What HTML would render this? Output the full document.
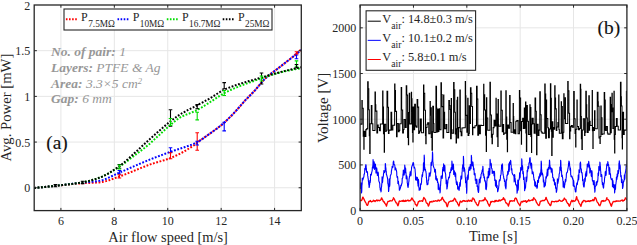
<!DOCTYPE html>
<html><head><meta charset="utf-8"><style>
html,body{margin:0;padding:0;background:#fff;width:637px;height:245px;overflow:hidden;font-family:"Liberation Serif",serif;}
svg{display:block}
</style></head><body>
<svg width="637" height="245" viewBox="0 0 637 245">
<rect width="637" height="245" fill="#fff"/>
<path d="M60.91 5.0V210.6M114.33 5.0V210.6M167.75 5.0V210.6M221.17 5.0V210.6M274.59 5.0V210.6M34.2 187.76H301.3M34.2 142.07H301.3M34.2 96.38H301.3M34.2 50.69H301.3" stroke="#e6e6e6" stroke-width="1" fill="none"/>
<defs><clipPath id="clipL"><rect x="34.2" y="5.0" width="267.10" height="205.60"/></clipPath></defs>
<g clip-path="url(#clipL)">
<path d="M34.20 188.00L35.20 187.90L36.20 187.80L37.20 187.70L38.20 187.60L39.20 187.51L40.20 187.41L41.20 187.31L42.20 187.21L43.20 187.11L44.20 187.01L45.20 186.91L46.20 186.81L47.20 186.71L48.20 186.61L49.20 186.51L50.20 186.42L51.20 186.32L52.20 186.22L53.20 186.12L54.20 186.02L55.20 185.92L56.20 185.82L57.20 185.72L58.20 185.61L59.20 185.51L60.20 185.40L61.20 185.29L62.20 185.18L63.20 185.07L64.20 184.96L65.20 184.84L66.20 184.73L67.20 184.62L68.20 184.51L69.20 184.40L70.20 184.30L71.20 184.19L72.20 184.09L73.20 183.98L74.20 183.89L75.20 183.79L76.20 183.70L77.20 183.61L78.20 183.52L79.20 183.44L80.20 183.36L81.20 183.29L82.20 183.23L83.20 183.16L84.20 183.11L85.20 183.06L86.20 183.02L87.20 182.98L88.20 182.94L89.20 182.90L90.20 182.87L91.20 182.83L92.20 182.80L93.20 182.76L94.20 182.72L95.20 182.67L96.20 182.62L97.20 182.56L98.20 182.50L99.20 182.42L100.20 182.33L101.20 182.21L102.20 182.05L103.20 181.86L104.20 181.63L105.20 181.39L106.20 181.11L107.20 180.82L108.20 180.51L109.20 180.18L110.20 179.83L111.20 179.48L112.20 179.12L113.20 178.75L114.20 178.38L115.20 178.00L116.20 177.64L117.20 177.27L118.20 176.91L119.20 176.57L120.20 176.23L121.20 175.88L122.20 175.51L123.20 175.15L124.20 174.77L125.20 174.38L126.20 173.99L127.20 173.60L128.20 173.19L129.20 172.79L130.20 172.38L131.20 171.97L132.20 171.55L133.20 171.14L134.20 170.72L135.20 170.31L136.20 169.90L137.20 169.48L138.20 169.07L139.20 168.67L140.20 168.27L141.20 167.87L142.20 167.48L143.20 167.09L144.20 166.70L145.20 166.31L146.20 165.92L147.20 165.53L148.20 165.15L149.20 164.79L150.20 164.43L151.20 164.09L152.20 163.76L153.20 163.44L154.20 163.13L155.20 162.83L156.20 162.54L157.20 162.25L158.20 161.96L159.20 161.67L160.20 161.38L161.20 161.09L162.20 160.80L163.20 160.50L164.20 160.20L165.20 159.88L166.20 159.56L167.20 159.22L168.20 158.87L169.20 158.50L170.20 158.12L171.20 157.72L172.20 157.31L173.20 156.88L174.20 156.44L175.20 155.99L176.20 155.53L177.20 155.06L178.20 154.57L179.20 154.07L180.20 153.56L181.20 153.03L182.20 152.50L183.20 151.95L184.20 151.39L185.20 150.81L186.20 150.23L187.20 149.63L188.20 149.02L189.20 148.39L190.20 147.76L191.20 147.11L192.20 146.45L193.20 145.78L194.20 145.09L195.20 144.28L196.20 143.42L197.20 142.60L198.20 141.84L199.20 141.10L200.20 140.37L201.20 139.66L202.20 138.95L203.20 138.26L204.20 137.56L205.20 136.87L206.20 136.18L207.20 135.49L208.20 134.79L209.20 134.08L210.20 133.35L211.20 132.63L212.20 131.92L213.20 131.21L214.20 130.49L215.20 129.77L216.20 129.05L217.20 128.32L218.20 127.57L219.20 126.80L220.20 126.02L221.20 125.21L222.20 124.38L223.20 123.52L224.20 122.64L225.20 121.73L226.20 120.80L227.20 119.85L228.20 118.89L229.20 117.91L230.20 116.91L231.20 115.91L232.20 114.90L233.20 113.86L234.20 112.80L235.20 111.71L236.20 110.60L237.20 109.48L238.20 108.35L239.20 107.20L240.20 106.06L241.20 104.91L242.20 103.78L243.20 102.65L244.20 101.54L245.20 100.44L246.20 99.38L247.20 98.33L248.20 97.30L249.20 96.29L250.20 95.28L251.20 94.27L252.20 93.25L253.20 92.21L254.20 91.16L255.20 90.08L256.20 88.95L257.20 87.77L258.20 86.56L259.20 85.34L260.20 84.12L261.20 82.92L262.20 81.75L263.20 80.64L264.20 79.59L265.20 78.62L266.20 77.70L267.20 76.81L268.20 75.96L269.20 75.13L270.20 74.33L271.20 73.55L272.20 72.78L273.20 72.02L274.20 71.27L275.20 70.53L276.20 69.79L277.20 69.04L278.20 68.29L279.20 67.52L280.20 66.74L281.20 65.94L282.20 65.16L283.20 64.38L284.20 63.60L285.20 62.83L286.20 62.05L287.20 61.28L288.20 60.50L289.20 59.72L290.20 58.93L291.20 58.14L292.20 57.34L293.20 56.52L294.20 55.70L295.20 54.86L296.20 54.00L297.20 53.12L298.20 52.21L299.20 51.29L300.20 50.35L301.30 49.30" stroke="#ff0000" stroke-width="2" stroke-dasharray="1.8 1.6" stroke-dashoffset="0" fill="none"/>
<path d="M34.20 188.00L35.20 187.90L36.20 187.80L37.20 187.70L38.20 187.60L39.20 187.50L40.20 187.40L41.20 187.30L42.20 187.20L43.20 187.10L44.20 186.99L45.20 186.89L46.20 186.79L47.20 186.68L48.20 186.58L49.20 186.47L50.20 186.36L51.20 186.26L52.20 186.15L53.20 186.04L54.20 185.93L55.20 185.82L56.20 185.71L57.20 185.60L58.20 185.49L59.20 185.37L60.20 185.26L61.20 185.14L62.20 185.02L63.20 184.90L64.20 184.78L65.20 184.66L66.20 184.54L67.20 184.42L68.20 184.30L69.20 184.18L70.20 184.06L71.20 183.94L72.20 183.82L73.20 183.70L74.20 183.58L75.20 183.46L76.20 183.34L77.20 183.22L78.20 183.10L79.20 182.99L80.20 182.87L81.20 182.76L82.20 182.64L83.20 182.53L84.20 182.43L85.20 182.33L86.20 182.24L87.20 182.15L88.20 182.07L89.20 181.98L90.20 181.89L91.20 181.80L92.20 181.71L93.20 181.61L94.20 181.51L95.20 181.40L96.20 181.28L97.20 181.15L98.20 181.00L99.20 180.85L100.20 180.67L101.20 180.45L102.20 180.19L103.20 179.88L104.20 179.54L105.20 179.17L106.20 178.78L107.20 178.36L108.20 177.91L109.20 177.45L110.20 176.98L111.20 176.49L112.20 176.00L113.20 175.51L114.20 175.02L115.20 174.53L116.20 174.05L117.20 173.58L118.20 173.12L119.20 172.68L120.20 172.26L121.20 171.84L122.20 171.41L123.20 170.98L124.20 170.55L125.20 170.12L126.20 169.68L127.20 169.25L128.20 168.81L129.20 168.38L130.20 167.94L131.20 167.50L132.20 167.07L133.20 166.63L134.20 166.20L135.20 165.76L136.20 165.33L137.20 164.90L138.20 164.47L139.20 164.04L140.20 163.61L141.20 163.19L142.20 162.76L143.20 162.33L144.20 161.91L145.20 161.48L146.20 161.06L147.20 160.64L148.20 160.23L149.20 159.82L150.20 159.42L151.20 159.02L152.20 158.63L153.20 158.24L154.20 157.85L155.20 157.47L156.20 157.09L157.20 156.71L158.20 156.33L159.20 155.96L160.20 155.58L161.20 155.21L162.20 154.84L163.20 154.47L164.20 154.11L165.20 153.74L166.20 153.37L167.20 153.01L168.20 152.64L169.20 152.28L170.20 151.91L171.20 151.55L172.20 151.19L173.20 150.85L174.20 150.51L175.20 150.18L176.20 149.85L177.20 149.53L178.20 149.21L179.20 148.90L180.20 148.58L181.20 148.27L182.20 147.95L183.20 147.63L184.20 147.30L185.20 146.97L186.20 146.64L187.20 146.29L188.20 145.94L189.20 145.57L190.20 145.20L191.20 144.81L192.20 144.41L193.20 144.00L194.20 143.56L195.20 143.12L196.20 142.65L197.20 142.15L198.20 141.61L199.20 141.03L200.20 140.41L201.20 139.76L202.20 139.09L203.20 138.40L204.20 137.69L205.20 136.97L206.20 136.24L207.20 135.51L208.20 134.79L209.20 134.07L210.20 133.36L211.20 132.66L212.20 131.95L213.20 131.25L214.20 130.53L215.20 129.81L216.20 129.08L217.20 128.34L218.20 127.59L219.20 126.81L220.20 126.02L221.20 125.21L222.20 124.38L223.20 123.52L224.20 122.64L225.20 121.73L226.20 120.80L227.20 119.85L228.20 118.89L229.20 117.91L230.20 116.91L231.20 115.91L232.20 114.90L233.20 113.86L234.20 112.80L235.20 111.71L236.20 110.60L237.20 109.48L238.20 108.35L239.20 107.20L240.20 106.06L241.20 104.91L242.20 103.78L243.20 102.65L244.20 101.54L245.20 100.44L246.20 99.38L247.20 98.33L248.20 97.30L249.20 96.29L250.20 95.28L251.20 94.27L252.20 93.25L253.20 92.21L254.20 91.16L255.20 90.08L256.20 88.95L257.20 87.77L258.20 86.56L259.20 85.34L260.20 84.12L261.20 82.92L262.20 81.75L263.20 80.64L264.20 79.59L265.20 78.62L266.20 77.70L267.20 76.81L268.20 75.96L269.20 75.13L270.20 74.32L271.20 73.54L272.20 72.77L273.20 72.01L274.20 71.26L275.20 70.52L276.20 69.77L277.20 69.03L278.20 68.27L279.20 67.51L280.20 66.74L281.20 65.95L282.20 65.16L283.20 64.38L284.20 63.60L285.20 62.83L286.20 62.05L287.20 61.27L288.20 60.50L289.20 59.72L290.20 58.94L291.20 58.16L292.20 57.38L293.20 56.59L294.20 55.80L295.20 55.00L296.20 54.20L297.20 53.39L298.20 52.57L299.20 51.75L300.20 50.92L301.30 50.00" stroke="#0000ff" stroke-width="2" stroke-dasharray="1.8 1.6" stroke-dashoffset="0" fill="none"/>
<path d="M34.20 188.00L35.20 187.91L36.20 187.81L37.20 187.72L38.20 187.62L39.20 187.52L40.20 187.42L41.20 187.32L42.20 187.22L43.20 187.12L44.20 187.02L45.20 186.92L46.20 186.81L47.20 186.70L48.20 186.60L49.20 186.49L50.20 186.38L51.20 186.27L52.20 186.16L53.20 186.05L54.20 185.94L55.20 185.82L56.20 185.71L57.20 185.60L58.20 185.49L59.20 185.37L60.20 185.26L61.20 185.15L62.20 185.04L63.20 184.93L64.20 184.82L65.20 184.71L66.20 184.60L67.20 184.48L68.20 184.37L69.20 184.25L70.20 184.13L71.20 184.00L72.20 183.88L73.20 183.75L74.20 183.61L75.20 183.47L76.20 183.33L77.20 183.18L78.20 183.03L79.20 182.88L80.20 182.71L81.20 182.55L82.20 182.37L83.20 182.19L84.20 182.00L85.20 181.79L86.20 181.58L87.20 181.36L88.20 181.12L89.20 180.87L90.20 180.61L91.20 180.34L92.20 180.07L93.20 179.77L94.20 179.47L95.20 179.16L96.20 178.84L97.20 178.51L98.20 178.16L99.20 177.81L100.20 177.44L101.20 177.04L102.20 176.61L103.20 176.16L104.20 175.68L105.20 175.18L106.20 174.66L107.20 174.12L108.20 173.56L109.20 172.98L110.20 172.39L111.20 171.79L112.20 171.18L113.20 170.55L114.20 169.92L115.20 169.29L116.20 168.65L117.20 168.01L118.20 167.37L119.20 166.73L120.20 166.08L121.20 165.42L122.20 164.73L123.20 164.03L124.20 163.31L125.20 162.58L126.20 161.84L127.20 161.09L128.20 160.33L129.20 159.56L130.20 158.79L131.20 158.01L132.20 157.24L133.20 156.47L134.20 155.70L135.20 154.93L136.20 154.18L137.20 153.43L138.20 152.68L139.20 151.95L140.20 151.21L141.20 150.47L142.20 149.73L143.20 148.98L144.20 148.22L145.20 147.44L146.20 146.65L147.20 145.84L148.20 145.00L149.20 144.14L150.20 143.26L151.20 142.37L152.20 141.46L153.20 140.55L154.20 139.62L155.20 138.70L156.20 137.78L157.20 136.86L158.20 135.94L159.20 135.04L160.20 134.12L161.20 133.20L162.20 132.27L163.20 131.33L164.20 130.40L165.20 129.47L166.20 128.56L167.20 127.65L168.20 126.76L169.20 125.89L170.20 125.05L171.20 124.22L172.20 123.39L173.20 122.56L174.20 121.74L175.20 120.94L176.20 120.17L177.20 119.43L178.20 118.73L179.20 118.08L180.20 117.49L181.20 116.94L182.20 116.43L183.20 115.95L184.20 115.49L185.20 115.05L186.20 114.64L187.20 114.23L188.20 113.84L189.20 113.45L190.20 113.06L191.20 112.66L192.20 112.26L193.20 111.85L194.20 111.42L195.20 110.97L196.20 110.50L197.20 110.00L198.20 109.47L199.20 108.92L200.20 108.34L201.20 107.75L202.20 107.14L203.20 106.52L204.20 105.88L205.20 105.24L206.20 104.60L207.20 103.95L208.20 103.30L209.20 102.65L210.20 102.00L211.20 101.37L212.20 100.74L213.20 100.11L214.20 99.46L215.20 98.80L216.20 98.15L217.20 97.49L218.20 96.83L219.20 96.18L220.20 95.54L221.20 94.92L222.20 94.32L223.20 93.75L224.20 93.20L225.20 92.67L226.20 92.16L227.20 91.66L228.20 91.17L229.20 90.69L230.20 90.21L231.20 89.75L232.20 89.30L233.20 88.85L234.20 88.42L235.20 87.98L236.20 87.56L237.20 87.14L238.20 86.73L239.20 86.32L240.20 85.92L241.20 85.53L242.20 85.14L243.20 84.76L244.20 84.39L245.20 84.03L246.20 83.67L247.20 83.32L248.20 82.97L249.20 82.62L250.20 82.28L251.20 81.93L252.20 81.58L253.20 81.24L254.20 80.88L255.20 80.53L256.20 80.17L257.20 79.81L258.20 79.45L259.20 79.10L260.20 78.74L261.20 78.40L262.20 78.06L263.20 77.73L264.20 77.39L265.20 77.05L266.20 76.71L267.20 76.37L268.20 76.03L269.20 75.70L270.20 75.37L271.20 75.04L272.20 74.72L273.20 74.41L274.20 74.10L275.20 73.80L276.20 73.51L277.20 73.23L278.20 72.96L279.20 72.70L280.20 72.45L281.20 72.21L282.20 71.97L283.20 71.74L284.20 71.51L285.20 71.28L286.20 71.05L287.20 70.83L288.20 70.62L289.20 70.41L290.20 70.20L291.20 70.00L292.20 69.81L293.20 69.62L294.20 69.43L295.20 69.25L296.20 69.08L297.20 68.91L298.20 68.75L299.20 68.60L300.20 68.45L301.30 68.30" stroke="#00dd00" stroke-width="2" stroke-dasharray="1.8 1.6" stroke-dashoffset="0" fill="none"/>
<path d="M34.20 188.00L35.20 187.91L36.20 187.81L37.20 187.72L38.20 187.62L39.20 187.52L40.20 187.42L41.20 187.32L42.20 187.22L43.20 187.12L44.20 187.02L45.20 186.92L46.20 186.81L47.20 186.70L48.20 186.60L49.20 186.49L50.20 186.38L51.20 186.27L52.20 186.16L53.20 186.05L54.20 185.94L55.20 185.82L56.20 185.71L57.20 185.60L58.20 185.49L59.20 185.37L60.20 185.26L61.20 185.15L62.20 185.04L63.20 184.93L64.20 184.82L65.20 184.71L66.20 184.60L67.20 184.48L68.20 184.37L69.20 184.25L70.20 184.13L71.20 184.00L72.20 183.88L73.20 183.75L74.20 183.61L75.20 183.47L76.20 183.33L77.20 183.18L78.20 183.03L79.20 182.88L80.20 182.71L81.20 182.55L82.20 182.37L83.20 182.19L84.20 182.00L85.20 181.80L86.20 181.58L87.20 181.36L88.20 181.12L89.20 180.88L90.20 180.62L91.20 180.35L92.20 180.07L93.20 179.78L94.20 179.48L95.20 179.17L96.20 178.85L97.20 178.51L98.20 178.17L99.20 177.81L100.20 177.44L101.20 177.03L102.20 176.61L103.20 176.15L104.20 175.67L105.20 175.16L106.20 174.64L107.20 174.09L108.20 173.52L109.20 172.93L110.20 172.33L111.20 171.71L112.20 171.07L113.20 170.43L114.20 169.77L115.20 169.10L116.20 168.42L117.20 167.73L118.20 167.04L119.20 166.34L120.20 165.63L121.20 164.87L122.20 164.08L123.20 163.26L124.20 162.41L125.20 161.54L126.20 160.65L127.20 159.75L128.20 158.83L129.20 157.91L130.20 156.99L131.20 156.07L132.20 155.15L133.20 154.25L134.20 153.35L135.20 152.46L136.20 151.55L137.20 150.64L138.20 149.72L139.20 148.81L140.20 147.89L141.20 146.97L142.20 146.05L143.20 145.13L144.20 144.22L145.20 143.32L146.20 142.42L147.20 141.51L148.20 140.61L149.20 139.70L150.20 138.80L151.20 137.90L152.20 137.00L153.20 136.10L154.20 135.21L155.20 134.32L156.20 133.44L157.20 132.56L158.20 131.68L159.20 130.81L160.20 129.95L161.20 129.08L162.20 128.21L163.20 127.34L164.20 126.48L165.20 125.62L166.20 124.78L167.20 123.95L168.20 123.13L169.20 122.32L170.20 121.53L171.20 120.76L172.20 120.00L173.20 119.24L174.20 118.49L175.20 117.76L176.20 117.04L177.20 116.34L178.20 115.66L179.20 115.01L180.20 114.38L181.20 113.77L182.20 113.18L183.20 112.61L184.20 112.05L185.20 111.51L186.20 110.97L187.20 110.45L188.20 109.93L189.20 109.42L190.20 108.91L191.20 108.41L192.20 107.90L193.20 107.39L194.20 106.88L195.20 106.36L196.20 105.84L197.20 105.30L198.20 104.76L199.20 104.22L200.20 103.68L201.20 103.15L202.20 102.61L203.20 102.07L204.20 101.53L205.20 100.98L206.20 100.43L207.20 99.88L208.20 99.32L209.20 98.76L210.20 98.18L211.20 97.59L212.20 96.98L213.20 96.34L214.20 95.70L215.20 95.05L216.20 94.39L217.20 93.74L218.20 93.10L219.20 92.47L220.20 91.86L221.20 91.27L222.20 90.71L223.20 90.19L224.20 89.70L225.20 89.24L226.20 88.81L227.20 88.38L228.20 87.97L229.20 87.57L230.20 87.19L231.20 86.81L232.20 86.45L233.20 86.09L234.20 85.74L235.20 85.40L236.20 85.06L237.20 84.72L238.20 84.39L239.20 84.06L240.20 83.73L241.20 83.41L242.20 83.10L243.20 82.79L244.20 82.49L245.20 82.20L246.20 81.91L247.20 81.62L248.20 81.33L249.20 81.05L250.20 80.77L251.20 80.49L252.20 80.21L253.20 79.92L254.20 79.63L255.20 79.34L256.20 79.05L257.20 78.76L258.20 78.46L259.20 78.17L260.20 77.88L261.20 77.59L262.20 77.30L263.20 77.00L264.20 76.71L265.20 76.42L266.20 76.12L267.20 75.82L268.20 75.53L269.20 75.23L270.20 74.94L271.20 74.65L272.20 74.36L273.20 74.07L274.20 73.78L275.20 73.50L276.20 73.22L277.20 72.94L278.20 72.67L279.20 72.41L280.20 72.15L281.20 71.89L282.20 71.64L283.20 71.38L284.20 71.13L285.20 70.88L286.20 70.63L287.20 70.39L288.20 70.15L289.20 69.91L290.20 69.67L291.20 69.43L292.20 69.20L293.20 68.97L294.20 68.74L295.20 68.52L296.20 68.29L297.20 68.07L298.20 67.86L299.20 67.64L300.20 67.43L301.30 67.20" stroke="#000000" stroke-width="2" stroke-dasharray="1.8 1.6" stroke-dashoffset="0" fill="none"/>
<path d="M55.4 184.6V186.8M53.6 184.6h3.6M53.6 186.8h3.6" stroke="#000" stroke-width="1.1" fill="none"/>
<path d="M82.6 181.2V183.6M80.8 181.2h3.6M80.8 183.6h3.6" stroke="#000" stroke-width="1.1" fill="none"/>
<path d="M119.4 164.5V168.3M117.6 164.5h3.6M117.6 168.3h3.6" stroke="#000" stroke-width="1.1" fill="none"/>
<path d="M119.4 165.0V169.0M117.6 165.0h3.6M117.6 169.0h3.6" stroke="#00dd00" stroke-width="1.1" fill="none"/>
<path d="M119.4 170.5V174.0M117.6 170.5h3.6M117.6 174.0h3.6" stroke="#0000ff" stroke-width="1.1" fill="none"/>
<path d="M119.4 174.8V178.0M117.6 174.8h3.6M117.6 178.0h3.6" stroke="#ff0000" stroke-width="1.1" fill="none"/>
<path d="M170.5 109.7V126.2M168.7 109.7h3.6M168.7 126.2h3.6" stroke="#000" stroke-width="1.1" fill="none"/>
<path d="M170.5 118.5V125.5M168.7 118.5h3.6M168.7 125.5h3.6" stroke="#00dd00" stroke-width="1.1" fill="none"/>
<path d="M170.5 147.8V152.5M168.7 147.8h3.6M168.7 152.5h3.6" stroke="#0000ff" stroke-width="1.1" fill="none"/>
<path d="M170.5 152.7V158.8M168.7 152.7h3.6M168.7 158.8h3.6" stroke="#ff0000" stroke-width="1.1" fill="none"/>
<path d="M197.2 104.6V108.7M195.4 104.6h3.6M195.4 108.7h3.6" stroke="#000" stroke-width="1.1" fill="none"/>
<path d="M197.2 112.3V119.9M195.4 112.3h3.6M195.4 119.9h3.6" stroke="#00dd00" stroke-width="1.1" fill="none"/>
<path d="M197.2 132.8V150.2M195.4 132.8h3.6M195.4 150.2h3.6" stroke="#ff0000" stroke-width="1.1" fill="none"/>
<path d="M197.2 141.2V145.0M195.4 141.2h3.6M195.4 145.0h3.6" stroke="#0000ff" stroke-width="1.1" fill="none"/>
<path d="M224.2 82.6V88.8M222.4 82.6h3.6M222.4 88.8h3.6" stroke="#000" stroke-width="1.1" fill="none"/>
<path d="M224.2 90.5V95.5M222.4 90.5h3.6M222.4 95.5h3.6" stroke="#00dd00" stroke-width="1.1" fill="none"/>
<path d="M224.2 122.3V130.9M222.4 122.3h3.6M222.4 130.9h3.6" stroke="#0000ff" stroke-width="1.1" fill="none"/>
<path d="M261.5 73.0V84.0M259.7 73.0h3.6M259.7 84.0h3.6" stroke="#000" stroke-width="1.1" fill="none"/>
<path d="M261.5 76.0V81.0M259.7 76.0h3.6M259.7 81.0h3.6" stroke="#00dd00" stroke-width="1.1" fill="none"/>
<path d="M296.5 60.9V66.2M294.7 60.9h3.6M294.7 66.2h3.6" stroke="#00dd00" stroke-width="1.1" fill="none"/>
<path d="M296.5 64.5V67.8M294.7 64.5h3.6M294.7 67.8h3.6" stroke="#000" stroke-width="1.1" fill="none"/>
<path d="M296.5 55.0V58.7M294.7 55.0h3.6M294.7 58.7h3.6" stroke="#0000ff" stroke-width="1.1" fill="none"/>
<path d="M296.5 51.8V54.0M294.7 51.8h3.6M294.7 54.0h3.6" stroke="#ff0000" stroke-width="1.1" fill="none"/>
</g>
<path d="M60.91 210.6v-2.7M60.91 5.0v2.7M114.33 210.6v-2.7M114.33 5.0v2.7M167.75 210.6v-2.7M167.75 5.0v2.7M221.17 210.6v-2.7M221.17 5.0v2.7M274.59 210.6v-2.7M274.59 5.0v2.7M34.2 187.76h2.7M301.3 187.76h-2.7M34.2 142.07h2.7M301.3 142.07h-2.7M34.2 96.38h2.7M301.3 96.38h-2.7M34.2 50.69h2.7M301.3 50.69h-2.7" stroke="#262626" stroke-width="1" fill="none"/>
<rect x="34.2" y="5.0" width="267.10" height="205.60" stroke="#262626" stroke-width="1.3" fill="none"/>
<g font-family="Liberation Serif, serif" font-size="12" fill="#262626">
<text x="60.91" y="225.3" text-anchor="middle">6</text>
<text x="114.33" y="225.3" text-anchor="middle">8</text>
<text x="167.75" y="225.3" text-anchor="middle">10</text>
<text x="221.17" y="225.3" text-anchor="middle">12</text>
<text x="274.59" y="225.3" text-anchor="middle">14</text>
<text x="30.3" y="9.55" text-anchor="end">2</text>
<text x="30.3" y="55.24" text-anchor="end">1.5</text>
<text x="30.3" y="100.93" text-anchor="end">1</text>
<text x="30.3" y="146.62" text-anchor="end">0.5</text>
<text x="30.3" y="192.31" text-anchor="end">0</text>
</g>
<text font-family="Liberation Serif, serif" font-size="14.4" fill="#262626" x="168.10" y="241.5" text-anchor="middle">Air flow speed [m/s]</text>
<text font-family="Liberation Serif, serif" font-size="14.7" fill="#262626" transform="translate(10.8 107.6) rotate(-90)" text-anchor="middle">Avg. Power [mW]</text>
<text font-family="Liberation Serif, serif" font-size="19.4" fill="#111" stroke="#111" stroke-width="0.12" x="46.3" y="149.4">(a)</text>
<g font-family="Liberation Serif, serif" font-size="13.5" fill="#979797" font-style="italic">
<text x="51" y="55.9"><tspan font-weight="bold">No. of pair:</tspan> 1</text>
<text x="51" y="71.8"><tspan font-weight="bold">Layers:</tspan> PTFE &amp; Ag</text>
<text x="51" y="87.6"><tspan font-weight="bold">Area:</tspan> 3.3×5 cm<tspan font-size="8.5" dy="-3.9">2</tspan></text>
<text x="51" y="103.4"><tspan font-weight="bold">Gap:</tspan> 6 mm</text>
</g>
<rect x="64" y="9" width="208" height="21" fill="#fff" stroke="#262626" stroke-width="1.1"/>
<path d="M65.9 19.3h12.4" stroke="#ff0000" stroke-width="2" stroke-dasharray="1.6 1.5"/>
<text font-family="Liberation Serif, serif" fill="#262626" x="81.1" y="20.7" font-size="12">P<tspan font-size="9.3" dx="0.4" dy="6.2">7.5MΩ</tspan></text>
<path d="M117.5 19.3h12.4" stroke="#0000ff" stroke-width="2" stroke-dasharray="1.6 1.5"/>
<text font-family="Liberation Serif, serif" fill="#262626" x="132.7" y="20.7" font-size="12">P<tspan font-size="9.3" dx="0.4" dy="6.2">10MΩ</tspan></text>
<path d="M166.8 19.3h12.4" stroke="#00dd00" stroke-width="2" stroke-dasharray="1.6 1.5"/>
<text font-family="Liberation Serif, serif" fill="#262626" x="182.0" y="20.7" font-size="12">P<tspan font-size="9.3" dx="0.4" dy="6.2">16.7MΩ</tspan></text>
<path d="M222.7 19.3h12.4" stroke="#000000" stroke-width="2" stroke-dasharray="1.6 1.5"/>
<text font-family="Liberation Serif, serif" fill="#262626" x="237.9" y="20.7" font-size="12">P<tspan font-size="9.3" dx="0.4" dy="6.2">25MΩ</tspan></text>
<path d="M413.46 5.0V210.6M466.82 5.0V210.6M520.18 5.0V210.6M573.54 5.0V210.6M360.1 164.91H626.9M360.1 119.22H626.9M360.1 73.53H626.9M360.1 27.84H626.9" stroke="#e6e6e6" stroke-width="1" fill="none"/>
<defs><clipPath id="clipR"><rect x="360.1" y="5.0" width="266.80" height="205.60"/></clipPath></defs>
<g clip-path="url(#clipR)">
<polyline points="360.10,124.10 361.90,124.10 361.90,100.51 362.25,100.51 362.25,108.30 363.23,108.30 363.23,136.28 363.85,136.28 363.85,149.27 364.07,149.27 364.07,131.17 364.96,131.17 364.96,136.44 365.86,136.44 365.86,129.63 366.81,129.63 366.81,128.64 367.67,128.64 367.67,81.83 368.18,81.83 368.18,88.88 368.78,88.88 368.78,109.74 369.31,109.74 369.31,135.61 369.75,135.61 369.75,153.52 370.11,153.52 370.11,123.67 371.30,123.67 371.30,105.61 371.92,105.61 371.92,123.69 372.81,123.69 372.81,130.46 375.00,130.46 375.00,92.02 375.40,92.02 375.40,104.79 375.79,104.79 375.79,111.14 376.87,111.14 376.87,132.91 377.60,132.91 377.60,125.04 378.21,125.04 378.21,127.44 379.48,127.44 379.48,130.42 379.96,130.42 379.96,130.69 380.34,130.69 380.34,124.02 382.65,124.02 382.65,90.99 382.95,90.99 382.95,107.10 383.48,107.10 383.48,133.60 384.23,133.60 384.23,152.27 384.48,152.27 384.48,124.20 385.67,124.20 385.67,131.55 386.16,131.55 386.16,130.34 387.00,130.34 387.00,91.26 387.68,91.26 387.68,107.26 388.45,107.26 388.45,133.39 388.99,133.39 388.99,130.10 389.75,130.10 389.75,130.12 390.99,130.12 390.99,112.24 391.70,112.24 391.70,130.00 392.83,130.00 392.83,125.34 394.64,125.34 394.64,84.10 394.95,84.10 394.95,90.47 395.47,90.47 395.47,111.36 396.53,111.36 396.53,136.60 397.07,136.60 397.07,123.59 398.35,123.59 398.35,131.62 399.19,131.62 399.19,130.39 399.75,130.39 399.75,123.79 401.20,123.79 401.20,87.61 401.66,87.61 401.66,109.95 402.63,109.95 402.63,133.00 403.43,133.00 403.43,129.54 404.01,129.54 404.01,119.44 405.24,119.44 405.24,127.58 406.22,127.58 406.22,85.66 406.75,85.66 406.75,94.91 407.62,94.91 407.62,137.48 408.37,137.48 408.37,144.60 408.62,144.60 408.62,112.50 409.29,112.50 409.29,93.15 409.73,93.15 409.73,123.88 411.36,123.88 411.36,92.36 411.57,92.36 411.57,98.82 412.02,98.82 412.02,111.13 412.45,111.13 412.45,132.51 412.87,132.51 412.87,142.05 413.09,142.05 413.09,107.04 413.72,107.04 413.72,129.68 414.64,129.68 414.64,104.38 415.42,104.38 415.42,126.12 416.12,126.12 416.12,127.31 417.10,127.31 417.10,99.62 417.74,99.62 417.74,107.12 418.67,107.12 418.67,133.56 419.11,133.56 419.11,132.37 419.47,132.37 419.47,131.07 420.26,131.07 420.26,119.09 421.31,119.09 421.31,132.84 423.54,132.84 423.54,84.99 423.85,84.99 423.85,93.37 424.72,93.37 424.72,110.21 425.44,110.21 425.44,135.50 425.81,135.50 425.81,143.63 426.12,143.63 426.12,127.44 427.01,127.44 427.01,124.34 427.70,124.34 427.70,122.78 428.78,122.78 428.78,133.84 430.06,133.84 430.06,101.46 430.33,101.46 430.33,115.14 430.68,115.14 430.68,107.81 431.29,107.81 431.29,137.44 432.02,137.44 432.02,150.29 432.40,150.29 432.40,131.77 432.75,131.77 432.75,106.35 433.47,106.35 433.47,123.55 433.92,123.55 433.92,132.49 435.94,132.49 435.94,86.35 436.51,86.35 436.51,108.26 437.04,108.26 437.04,132.08 437.79,132.08 437.79,109.41 438.48,109.41 438.48,131.47 438.89,131.47 438.89,108.86 439.55,108.86 439.55,129.77 440.96,129.77 440.96,82.69 441.43,82.69 441.43,94.52 442.06,94.52 442.06,106.62 443.04,106.62 443.04,137.94 443.61,137.94 443.61,94.96 443.85,94.96 443.85,112.39 444.61,112.39 444.61,128.69 445.90,128.69 445.90,124.48 446.82,124.48 446.82,132.49 448.82,132.49 448.82,100.59 449.40,100.59 449.40,105.49 449.99,105.49 449.99,109.36 450.61,109.36 450.61,138.75 451.23,138.75 451.23,98.45 451.50,98.45 451.50,129.77 452.01,129.77 452.01,133.29 453.62,133.29 453.62,82.50 454.06,82.50 454.06,89.74 454.76,89.74 454.76,112.15 455.36,112.15 455.36,133.94 456.10,133.94 456.10,143.00 456.45,143.00 456.45,128.74 456.97,128.74 456.97,100.24 457.45,100.24 457.45,97.22 457.71,97.22 457.71,138.04 458.56,138.04 458.56,127.63 459.87,127.63 459.87,89.91 460.30,89.91 460.30,131.68 461.18,131.68 461.18,135.66 461.92,135.66 461.92,128.07 463.00,128.07 463.00,127.67 465.27,127.67 465.27,81.60 465.55,81.60 465.55,95.87 465.91,95.87 465.91,115.36 466.87,115.36 466.87,132.26 467.73,132.26 467.73,98.22 468.06,98.22 468.06,135.35 468.86,135.35 468.86,133.37 469.29,133.37 469.29,105.76 469.62,105.76 469.62,123.37 470.44,123.37 470.44,87.86 471.01,87.86 471.01,93.28 471.74,93.28 471.74,106.45 472.53,106.45 472.53,134.77 472.86,134.77 472.86,127.35 473.80,127.35 473.80,127.66 474.99,127.66 474.99,125.84 476.51,125.84 476.51,86.15 477.12,86.15 477.12,98.95 477.79,98.95 477.79,135.24 478.54,135.24 478.54,125.32 479.61,125.32 479.61,133.81 480.36,133.81 480.36,125.31 481.51,125.31 481.51,125.43 483.66,125.43 483.66,84.25 483.87,84.25 483.87,94.65 484.69,94.65 484.69,109.93 485.56,109.93 485.56,135.10 486.26,135.10 486.26,151.49 486.49,151.49 486.49,97.87 486.79,97.87 486.79,118.06 487.72,118.06 487.72,130.28 489.94,130.28 489.94,82.22 490.39,82.22 490.39,114.93 491.39,114.93 491.39,137.33 492.04,137.33 492.04,143.67 492.40,143.67 492.40,134.23 493.16,134.23 493.16,127.61 494.05,127.61 494.05,120.33 495.08,120.33 495.08,126.05 495.97,126.05 495.97,98.30 496.21,98.30 496.21,114.06 497.06,114.06 497.06,136.73 497.80,136.73 497.80,146.55 498.08,146.55 498.08,99.42 498.37,99.42 498.37,124.78 498.83,124.78 498.83,126.33 500.87,126.33 500.87,91.10 501.23,91.10 501.23,110.23 502.27,110.23 502.27,131.61 503.01,131.61 503.01,124.59 503.64,124.59 503.64,134.38 504.02,134.38 504.02,133.14 505.85,133.14 505.85,90.66 506.19,90.66 506.19,116.96 506.72,116.96 506.72,139.17 507.35,139.17 507.35,151.83 507.54,151.83 507.54,124.99 508.50,124.99 508.50,128.13 509.63,128.13 509.63,95.45 510.10,95.45 510.10,122.51 511.10,122.51 511.10,132.22 513.13,132.22 513.13,103.61 513.39,103.61 513.39,116.53 513.71,116.53 513.71,133.17 514.70,133.17 514.70,129.71 515.34,129.71 515.34,133.72 515.84,133.72 515.84,121.31 516.90,121.31 516.90,120.52 518.06,120.52 518.06,133.84 519.40,133.84 519.40,90.53 519.75,90.53 519.75,97.90 520.61,97.90 520.61,130.75 521.39,130.75 521.39,144.27 521.54,144.27 521.54,121.41 522.66,121.41 522.66,118.17 523.30,118.17 523.30,128.53 524.33,128.53 524.33,108.08 524.69,108.08 524.69,128.22 525.55,128.22 525.55,101.93 525.88,101.93 525.88,133.00 526.40,133.00 526.40,151.49 526.77,151.49 526.77,105.62 527.38,105.62 527.38,121.25 528.44,121.25 528.44,134.44 529.86,134.44 529.86,104.87 530.16,104.87 530.16,107.44 530.89,107.44 530.89,136.43 531.50,136.43 531.50,152.56 531.67,152.56 531.67,124.23 532.13,124.23 532.13,118.39 533.19,118.39 533.19,123.71 534.11,123.71 534.11,133.27 535.03,133.27 535.03,98.01 535.63,98.01 535.63,111.27 536.29,111.27 536.29,134.08 536.59,134.08 536.59,154.70 536.93,154.70 536.93,124.18 538.06,124.18 538.06,135.49 538.94,135.49 538.94,130.10 539.81,130.10 539.81,91.75 540.29,91.75 540.29,114.79 541.15,114.79 541.15,131.76 541.85,131.76 541.85,133.09 542.27,133.09 542.27,132.75 542.67,132.75 542.67,133.15 544.77,133.15 544.77,84.01 545.17,84.01 545.17,94.02 545.70,94.02 545.70,138.25 546.39,138.25 546.39,100.04 546.62,100.04 546.62,118.54 547.78,118.54 547.78,127.72 548.48,127.72 548.48,137.77 549.34,137.77 549.34,128.97 550.41,128.97 550.41,83.87 550.83,83.87 550.83,98.31 551.34,98.31 551.34,131.20 551.72,131.20 551.72,155.59 552.07,155.59 552.07,121.72 552.88,121.72 552.88,137.14 553.28,137.14 553.28,127.42 553.72,127.42 553.72,129.24 554.73,129.24 554.73,85.75 555.07,85.75 555.07,97.91 555.57,97.91 555.57,108.87 556.25,108.87 556.25,130.41 556.84,130.41 556.84,126.95 557.90,126.95 557.90,122.48 558.70,122.48 558.70,94.96 558.94,94.96 558.94,129.52 559.32,129.52 559.32,133.23 561.23,133.23 561.23,101.74 561.48,101.74 561.48,106.64 562.34,106.64 562.34,138.65 563.07,138.65 563.07,132.21 563.81,132.21 563.81,93.86 564.06,93.86 564.06,118.78 565.16,118.78 565.16,97.81 565.44,97.81 565.44,123.52 567.75,123.52 567.75,81.55 568.15,81.55 568.15,90.86 568.91,90.86 568.91,113.29 569.58,113.29 569.58,138.71 569.98,138.71 569.98,131.08 570.68,131.08 570.68,126.63 571.29,126.63 571.29,125.40 572.37,125.40 572.37,127.20 573.69,127.20 573.69,91.46 574.24,91.46 574.24,118.76 575.09,118.76 575.09,133.52 575.67,133.52 575.67,146.86 575.91,146.86 575.91,129.16 576.94,129.16 576.94,99.99 577.20,99.99 577.20,126.52 578.49,126.52 578.49,129.73 579.39,129.73 579.39,128.57 580.26,128.57 580.26,84.38 580.62,84.38 580.62,89.30 580.93,89.30 580.93,116.45 581.38,116.45 581.38,138.62 581.91,138.62 581.91,149.41 582.30,149.41 582.30,130.07 583.33,130.07 583.33,118.70 584.60,118.70 584.60,135.51 584.95,135.51 584.95,132.15 585.80,132.15 585.80,91.22 586.31,91.22 586.31,104.87 586.71,104.87 586.71,118.04 587.34,118.04 587.34,132.53 588.20,132.53 588.20,122.72 588.83,122.72 588.83,95.75 589.28,95.75 589.28,130.27 589.59,130.27 589.59,121.32 590.10,121.32 590.10,125.41 592.20,125.41 592.20,90.62 592.42,90.62 592.42,130.62 592.89,130.62 592.89,148.39 593.12,148.39 593.12,127.63 593.92,127.63 593.92,130.47 594.52,130.47 594.52,110.67 594.98,110.67 594.98,128.77 597.28,128.77 597.28,92.18 597.98,92.18 597.98,101.89 598.31,101.89 598.31,106.18 599.01,106.18 599.01,138.07 599.98,138.07 599.98,143.58 600.23,143.58 600.23,136.49 600.87,136.49 600.87,106.08 601.18,106.08 601.18,117.71 602.01,117.71 602.01,134.49 602.34,134.49 602.34,134.08 604.20,134.08 604.20,92.50 604.67,92.50 604.67,100.05 605.27,100.05 605.27,130.21 605.69,130.21 605.69,130.56 606.27,130.56 606.27,126.51 607.39,126.51 607.39,132.91 607.89,132.91 607.89,134.11 610.17,134.11 610.17,97.33 610.56,97.33 610.56,104.49 610.90,104.49 610.90,132.60 611.27,132.60 611.27,111.79 611.98,111.79 611.98,93.24 612.24,93.24 612.24,108.02 612.85,108.02 612.85,128.59 613.97,128.59 613.97,91.23 614.23,91.23 614.23,139.19 614.63,139.19 614.63,153.02 614.82,153.02 614.82,134.49 615.37,134.49 615.37,126.48 616.37,126.48 616.37,118.62 617.18,118.62 617.18,126.23 618.23,126.23 618.23,130.08 620.46,130.08 620.46,82.30 621.00,82.30 621.00,96.83 621.38,96.83 621.38,106.08 621.99,106.08 621.99,137.70 622.30,137.70 622.30,148.87 622.47,148.87 622.47,119.81 622.97,119.81 622.97,112.23 623.55,112.23 623.55,134.50 624.23,134.50 624.23,130.12 626.41,130.12 626.41,91.37 626.89,91.37 626.89,129.36 627.37,129.36 627.37,120.22 628.15,120.22 628.15,120.99 629.12,120.99" stroke="#000" stroke-width="1.05" fill="none" stroke-linejoin="miter"/>
<polyline points="360.10,184.41 360.34,185.40 360.46,188.36 360.70,186.94 360.82,182.71 361.06,182.86 361.18,183.33 361.42,185.72 361.54,192.88 361.78,191.17 361.90,186.04 362.14,184.04 362.26,178.06 362.50,178.58 362.62,180.15 362.86,179.93 362.98,179.26 363.22,178.96 363.34,178.03 363.58,177.79 363.70,177.06 363.94,176.42 364.06,174.50 364.30,174.28 364.42,173.64 364.66,172.38 364.78,168.60 365.02,168.98 365.14,170.14 365.38,169.09 365.50,165.95 365.74,165.61 365.86,164.58 366.10,165.50 366.22,168.24 366.46,169.21 366.58,172.12 366.82,172.12 366.94,172.12 367.18,171.98 367.30,171.58 367.54,172.65 367.66,175.89 367.90,176.45 368.02,178.12 368.26,178.86 368.38,181.09 368.62,181.92 368.74,184.43 368.98,185.20 369.10,187.49 369.34,187.01 369.46,185.57 369.70,184.30 369.82,180.46 370.06,181.05 370.18,182.80 370.42,180.66 370.54,174.22 370.78,174.46 370.90,175.18 371.14,175.11 371.26,174.91 371.50,174.31 371.62,172.52 371.86,172.21 371.98,171.28 372.22,170.31 372.34,167.42 372.58,167.19 372.70,166.50 372.94,164.77 373.06,159.59 373.30,161.71 373.42,168.08 373.66,166.80 373.78,162.93 374.02,162.64 374.14,161.75 374.38,163.68 374.50,169.49 374.74,168.51 374.86,165.60 375.10,165.19 375.22,163.95 375.46,164.57 375.58,166.44 375.82,168.07 375.94,172.96 376.18,172.95 376.30,172.92 376.54,171.66 376.66,167.90 376.90,169.20 377.02,173.13 377.26,173.70 377.38,175.42 377.62,175.12 377.74,174.23 377.98,173.71 378.10,172.15 378.34,173.26 378.46,176.60 378.70,177.71 378.82,181.05 379.06,181.29 379.18,182.00 379.42,182.20 379.54,182.82 379.78,183.98 379.90,187.46 380.14,188.12 380.26,190.09 380.50,189.76 380.62,188.74 380.86,189.55 380.98,191.96 381.22,190.84 381.34,187.45 381.58,186.79 381.70,184.81 381.94,182.81 382.06,176.82 382.30,178.30 382.42,182.74 382.66,181.71 382.78,178.63 383.02,178.19 383.14,176.88 383.38,176.08 383.50,173.68 383.74,172.87 383.86,170.46 384.10,171.02 384.22,172.73 384.46,172.57 384.58,172.10 384.82,172.08 384.94,172.04 385.18,169.88 385.30,163.43 385.54,164.38 385.66,167.24 385.90,167.97 386.02,170.15 386.26,171.25 386.38,174.53 386.62,174.73 386.74,175.34 386.98,175.70 387.10,176.80 387.34,177.12 387.46,178.08 387.70,179.41 387.82,183.38 388.06,183.79 388.18,185.00 388.42,186.63 388.54,191.51 388.78,190.70 388.90,188.30 389.14,185.96 389.26,178.92 389.50,180.78 389.62,186.36 389.86,184.60 389.98,179.33 390.22,178.40 390.34,175.61 390.58,175.42 390.70,174.83 390.94,174.69 391.06,174.28 391.30,173.39 391.42,170.70 391.66,170.25 391.78,168.90 392.02,168.26 392.14,166.32 392.38,166.64 392.50,167.59 392.74,167.53 392.86,167.32 393.10,165.97 393.22,161.91 393.46,161.67 393.58,160.96 393.82,161.84 393.94,164.49 394.18,164.50 394.30,164.54 394.54,164.65 394.66,164.99 394.90,166.22 395.02,169.91 395.26,169.35 395.38,167.66 395.62,167.85 395.74,168.41 395.98,168.79 396.10,169.92 396.34,170.12 396.46,170.71 396.70,172.05 396.82,176.08 397.06,176.46 397.18,177.60 397.42,177.32 397.54,176.48 397.78,178.24 397.90,183.53 398.14,182.88 398.26,180.94 398.50,181.77 398.62,184.27 398.86,184.53 398.98,185.30 399.22,186.54 399.34,190.25 399.58,190.07 399.70,189.52 399.94,189.32 400.06,188.73 400.30,188.46 400.42,187.65 400.66,187.06 400.78,185.28 401.02,185.44 401.14,185.91 401.38,185.45 401.50,184.08 401.74,183.96 401.86,183.61 402.10,182.29 402.22,178.35 402.46,178.30 402.58,178.17 402.82,177.24 402.94,174.43 403.18,173.30 403.30,169.93 403.54,170.68 403.66,172.94 403.90,173.49 404.02,175.16 404.26,174.56 404.38,172.75 404.62,170.86 404.74,165.17 404.98,167.05 405.10,172.70 405.34,171.49 405.46,167.86 405.70,168.94 405.82,172.19 406.06,173.85 406.18,178.83 406.42,178.02 406.54,175.61 406.78,175.81 406.90,176.40 407.14,178.02 407.26,182.89 407.50,183.68 407.62,186.04 407.86,186.41 407.98,187.52 408.22,186.96 408.34,185.27 408.58,184.50 408.70,182.20 408.94,181.32 409.06,178.66 409.30,178.10 409.42,176.42 409.66,175.90 409.78,174.33 410.02,173.68 410.14,171.72 410.38,171.76 410.50,171.85 410.74,172.87 410.86,175.90 411.10,174.62 411.22,170.76 411.46,169.89 411.58,167.28 411.82,166.94 411.94,165.93 412.18,165.79 412.30,165.36 412.54,164.97 412.66,163.83 412.90,163.48 413.02,162.46 413.26,162.52 413.38,162.70 413.62,163.46 413.74,165.74 413.98,166.28 414.10,167.92 414.34,167.78 414.46,167.34 414.70,167.58 414.82,168.30 415.06,169.08 415.18,171.44 415.42,173.57 415.54,179.93 415.78,179.13 415.90,176.72 416.14,176.92 416.26,177.52 416.50,178.19 416.62,180.22 416.86,179.80 416.98,178.55 417.22,178.25 417.34,177.36 417.58,178.77 417.70,183.01 417.94,183.76 418.06,186.02 418.30,184.34 418.42,179.28 418.66,181.21 418.78,186.98 419.02,187.82 419.14,190.34 419.38,189.73 419.50,187.93 419.74,188.15 419.86,188.80 420.10,189.05 420.22,189.81 420.46,188.28 420.58,183.69 420.82,183.93 420.94,184.67 421.18,184.37 421.30,183.49 421.54,182.21 421.66,178.38 421.90,177.47 422.02,174.77 422.26,175.24 422.38,176.66 422.62,175.62 422.74,172.50 422.98,172.34 423.10,171.89 423.34,169.59 423.46,162.72 423.70,164.75 423.82,170.82 424.06,166.90 424.18,155.15 424.42,157.99 424.54,166.52 424.78,167.29 424.90,169.61 425.14,169.49 425.26,169.14 425.50,169.58 425.62,170.92 425.86,171.31 425.98,172.51 426.22,173.74 426.34,177.46 426.58,178.69 426.70,182.38 426.94,182.98 427.06,184.77 427.30,184.73 427.42,184.63 427.66,184.61 427.78,184.55 428.02,183.44 428.14,180.12 428.38,180.16 428.50,180.28 428.74,179.28 428.86,176.29 429.10,175.41 429.22,172.78 429.46,173.06 429.58,173.89 429.82,174.47 429.94,176.20 430.18,175.58 430.30,173.72 430.54,173.46 430.66,172.68 430.90,170.18 431.02,162.67 431.26,163.38 431.38,165.51 431.62,164.61 431.74,161.89 431.98,161.55 432.10,160.53 432.34,158.32 432.46,151.69 432.70,154.17 432.82,161.60 433.06,162.59 433.18,165.56 433.42,165.90 433.54,166.94 433.78,167.08 433.90,167.50 434.14,167.79 434.26,168.68 434.50,169.49 434.62,171.90 434.86,171.94 434.98,172.06 435.22,171.37 435.34,169.33 435.58,171.81 435.70,179.27 435.94,178.38 436.06,175.73 436.30,176.84 436.42,180.18 436.66,179.85 436.78,178.85 437.02,178.80 437.14,178.65 437.38,179.60 437.50,182.42 437.74,182.26 437.86,181.77 438.10,183.65 438.22,189.28 438.46,187.93 438.58,183.86 438.82,185.32 438.94,189.70 439.18,189.29 439.30,188.04 439.54,188.04 439.66,188.05 439.90,189.29 440.02,193.03 440.26,191.33 440.38,186.24 440.62,185.09 440.74,181.63 440.98,180.25 441.10,176.11 441.34,176.42 441.46,177.34 441.70,176.96 441.82,175.85 442.06,176.53 442.18,178.56 442.42,176.35 442.54,169.73 442.78,169.09 442.90,167.20 443.14,168.09 443.26,170.76 443.50,169.01 443.62,163.77 443.86,165.60 443.98,171.07 444.22,170.41 444.34,168.44 444.58,167.67 444.70,165.35 444.94,167.09 445.06,172.33 445.30,172.57 445.42,173.28 445.66,174.32 445.78,177.46 446.02,179.03 446.14,183.71 446.38,182.81 446.50,180.11 446.74,182.35 446.86,189.04 447.10,188.59 447.22,187.26 447.46,186.41 447.58,183.85 447.82,182.92 447.94,180.15 448.18,179.91 448.30,179.19 448.54,178.67 448.66,177.11 448.90,177.30 449.02,177.89 449.26,177.76 449.38,177.38 449.62,176.13 449.74,172.36 449.98,172.47 450.10,172.78 450.34,172.70 450.46,172.48 450.70,171.68 450.82,169.25 451.06,168.86 451.18,167.66 451.42,168.34 451.54,170.37 451.78,168.02 451.90,160.96 452.14,163.10 452.26,169.50 452.50,168.79 452.62,166.65 452.86,166.76 452.98,167.11 453.22,166.37 453.34,164.16 453.58,166.73 453.70,174.43 453.94,174.23 454.06,173.64 454.30,172.94 454.42,170.87 454.66,171.93 454.78,175.11 455.02,175.52 455.14,176.74 455.38,175.78 455.50,172.89 455.74,174.54 455.86,179.48 456.10,180.34 456.22,182.93 456.46,183.37 456.58,184.69 456.82,183.97 456.94,181.81 457.18,182.17 457.30,183.25 457.54,184.66 457.66,188.89 457.90,188.98 458.02,189.25 458.26,188.62 458.38,186.72 458.62,187.03 458.74,187.96 458.98,188.57 459.10,190.39 459.34,188.99 459.46,184.81 459.70,184.26 459.82,182.61 460.06,183.53 460.18,186.30 460.42,184.77 460.54,180.20 460.78,179.15 460.90,176.00 461.14,176.20 461.26,176.80 461.50,177.37 461.62,179.07 461.86,177.45 461.98,172.59 462.22,171.50 462.34,168.21 462.58,167.37 462.70,164.85 462.94,165.66 463.06,168.12 463.30,165.14 463.42,156.22 463.66,159.96 463.78,171.20 464.02,170.30 464.14,167.59 464.38,167.91 464.50,168.86 464.74,169.67 464.86,172.09 465.10,173.28 465.22,176.82 465.46,178.31 465.58,182.77 465.82,182.28 465.94,180.79 466.18,182.30 466.30,186.82 466.54,188.42 466.66,193.21 466.90,189.19 467.02,177.13 467.26,177.89 467.38,180.17 467.62,178.86 467.74,174.94 467.98,176.09 468.10,179.53 468.34,177.41 468.46,171.05 468.70,170.43 468.82,168.57 469.06,168.16 469.18,166.93 469.42,167.51 469.54,169.23 469.78,169.55 469.90,170.52 470.14,169.00 470.26,164.44 470.50,165.52 470.62,168.76 470.86,168.78 470.98,168.84 471.22,165.44 471.34,155.25 471.58,157.37 471.70,163.73 471.94,164.01 472.06,164.86 472.30,165.11 472.42,165.87 472.66,164.87 472.78,161.87 473.02,162.63 473.14,164.93 473.38,166.15 473.50,169.81 473.74,169.36 473.86,168.04 474.10,169.68 474.22,174.62 474.46,174.71 474.58,174.99 474.82,174.56 474.94,173.30 475.18,175.05 475.30,180.30 475.54,180.06 475.66,179.34 475.90,180.38 476.02,183.50 476.26,182.96 476.38,181.32 476.62,180.73 476.74,178.95 476.98,180.85 477.10,186.55 477.34,186.30 477.46,185.55 477.70,186.64 477.82,189.92 478.06,190.46 478.18,192.06 478.42,192.15 478.54,192.41 478.78,190.18 478.90,183.50 479.14,182.41 479.26,179.15 479.50,179.84 479.62,181.93 479.86,182.19 479.98,182.96 480.22,181.55 480.34,177.30 480.58,177.57 480.70,178.37 480.94,177.26 481.06,173.96 481.30,173.91 481.42,173.76 481.66,173.39 481.78,172.29 482.02,171.77 482.14,170.24 482.38,170.06 482.50,169.53 482.74,168.69 482.86,166.18 483.10,168.47 483.22,175.32 483.46,174.87 483.58,173.55 483.82,174.57 483.94,177.64 484.18,177.39 484.30,176.63 484.54,177.71 484.66,180.96 484.90,180.85 485.02,180.51 485.26,180.85 485.38,181.86 485.62,183.63 485.74,188.91 485.98,189.09 486.10,189.62 486.34,189.18 486.46,187.87 486.70,186.27 486.82,181.47 487.06,180.34 487.18,176.94 487.42,176.97 487.54,177.05 487.78,177.30 487.90,178.05 488.14,176.39 488.26,171.42 488.50,172.95 488.62,177.54 488.86,175.24 488.98,168.33 489.22,169.33 489.34,172.34 489.58,173.01 489.70,175.02 489.94,171.08 490.06,159.24 490.30,160.71 490.42,165.10 490.66,164.82 490.78,163.96 491.02,163.80 491.14,163.30 491.38,164.52 491.50,168.18 491.74,168.22 491.86,168.37 492.10,169.64 492.22,173.44 492.46,173.24 492.58,172.64 492.82,172.22 492.94,170.95 493.18,171.42 493.30,172.83 493.54,172.53 493.66,171.63 493.90,172.67 494.02,175.79 494.26,174.67 494.38,171.29 494.62,173.58 494.74,180.43 494.98,180.14 495.10,179.24 495.34,180.96 495.46,186.11 495.70,186.01 495.82,185.72 496.06,184.39 496.18,180.42 496.42,182.19 496.54,187.53 496.78,186.91 496.90,185.06 497.14,185.77 497.26,187.88 497.50,188.84 497.62,191.70 497.86,191.39 497.98,190.48 498.22,190.07 498.34,188.86 498.58,188.33 498.70,186.75 498.94,185.44 499.06,181.53 499.30,181.08 499.42,179.74 499.66,180.02 499.78,180.85 500.02,180.63 500.14,180.00 500.38,178.86 500.50,175.44 500.74,175.31 500.86,174.91 501.10,173.81 501.22,170.51 501.46,169.13 501.58,165.00 501.82,165.67 501.94,167.67 502.18,166.69 502.30,163.75 502.54,165.55 502.66,170.97 502.90,171.79 503.02,174.24 503.26,174.65 503.38,175.88 503.62,176.50 503.74,178.35 503.98,178.53 504.10,179.07 504.34,179.66 504.46,181.42 504.70,181.24 504.82,180.70 505.06,181.99 505.18,185.89 505.42,186.33 505.54,187.64 505.78,187.96 505.90,188.89 506.14,186.54 506.26,179.48 506.50,179.68 506.62,180.30 506.86,178.96 506.98,174.93 507.22,175.04 507.34,175.38 507.58,174.41 507.70,171.51 507.94,172.25 508.06,174.45 508.30,173.45 508.42,170.46 508.66,168.81 508.78,163.86 509.02,165.74 509.14,171.39 509.38,169.10 509.50,162.22 509.74,162.84 509.86,164.67 510.10,163.85 510.22,161.36 510.46,161.11 510.58,160.33 510.82,161.26 510.94,164.03 511.18,165.53 511.30,170.03 511.54,169.59 511.66,168.26 511.90,169.40 512.02,172.83 512.26,173.02 512.38,173.59 512.62,173.87 512.74,174.70 512.98,174.71 513.10,174.75 513.34,174.88 513.46,175.30 513.70,175.43 513.82,175.81 514.06,177.36 514.18,182.02 514.42,180.12 514.54,174.43 514.78,175.30 514.90,177.90 515.14,178.51 515.26,180.34 515.50,181.38 515.62,184.49 515.86,184.64 515.98,185.10 516.22,185.01 516.34,184.74 516.58,185.16 516.70,186.41 516.94,188.11 517.06,193.20 517.30,191.90 517.42,187.97 517.66,185.97 517.78,179.99 518.02,182.54 518.14,190.19 518.38,187.76 518.50,180.46 518.74,180.30 518.86,179.82 519.10,179.56 519.22,178.80 519.46,177.33 519.58,172.92 519.82,174.17 519.94,177.93 520.18,176.63 520.30,172.71 520.54,171.44 520.66,167.61 520.90,168.29 521.02,170.32 521.26,170.26 521.38,170.06 521.62,167.25 521.74,158.80 521.98,161.39 522.10,169.14 522.34,168.26 522.46,165.60 522.70,167.63 522.82,173.74 523.06,173.16 523.18,171.41 523.42,173.44 523.54,179.53 523.78,178.90 523.90,177.01 524.14,178.16 524.26,181.58 524.50,183.85 524.62,190.64 524.86,189.58 524.98,186.39 525.22,186.91 525.34,188.47 525.58,187.48 525.70,184.50 525.94,182.61 526.06,176.95 526.30,178.12 526.42,181.60 526.66,180.98 526.78,179.12 527.02,176.89 527.14,170.21 527.38,170.63 527.50,171.90 527.74,170.54 527.86,166.46 528.10,166.83 528.22,167.97 528.46,168.13 528.58,168.61 528.82,167.22 528.94,163.08 529.18,162.97 529.30,162.63 529.54,161.53 529.66,158.21 529.90,158.07 530.02,157.65 530.26,159.32 530.38,164.34 530.62,164.73 530.74,165.89 530.98,166.48 531.10,168.25 531.34,166.93 531.46,162.97 531.70,164.59 531.82,169.44 532.06,170.54 532.18,173.85 532.42,173.77 532.54,173.56 532.78,173.13 532.90,171.85 533.14,172.28 533.26,173.54 533.50,174.42 533.62,177.06 533.86,177.77 533.98,179.92 534.22,179.83 534.34,179.56 534.58,181.04 534.70,185.49 534.94,185.61 535.06,185.98 535.30,184.96 535.42,181.92 535.66,183.12 535.78,186.74 536.02,186.55 536.14,185.96 536.38,185.77 536.50,185.21 536.74,185.95 536.86,188.17 537.10,188.14 537.22,188.06 537.46,186.13 537.58,180.35 537.82,180.77 537.94,182.02 538.18,182.15 538.30,182.54 538.54,181.28 538.66,177.52 538.90,177.23 539.02,176.39 539.26,176.82 539.38,178.11 539.62,177.09 539.74,174.06 539.98,173.81 540.10,173.08 540.34,173.86 540.46,176.21 540.70,174.81 540.82,170.60 541.06,168.23 541.18,161.13 541.42,163.06 541.54,168.82 541.78,170.30 541.90,174.74 542.14,174.29 542.26,172.95 542.50,173.27 542.62,174.22 542.86,174.73 542.98,176.26 543.22,177.67 543.34,181.92 543.58,181.36 543.70,179.68 543.94,181.50 544.06,186.95 544.30,186.90 544.42,186.75 544.66,185.77 544.78,182.82 545.02,183.58 545.14,185.86 545.38,185.18 545.50,183.16 545.74,181.57 545.86,176.78 546.10,177.18 546.22,178.39 546.46,177.78 546.58,175.95 546.82,175.15 546.94,172.77 547.18,171.83 547.30,168.99 547.54,170.73 547.66,175.94 547.90,174.50 548.02,170.18 548.26,169.50 548.38,167.44 548.62,167.89 548.74,169.25 548.98,168.38 549.10,165.79 549.34,164.37 549.46,160.13 549.70,161.29 549.82,164.77 550.06,165.82 550.18,168.97 550.42,168.57 550.54,167.38 550.78,167.51 550.90,167.87 551.14,168.95 551.26,172.18 551.50,171.95 551.62,171.26 551.86,170.61 551.98,168.66 552.22,169.87 552.34,173.50 552.58,174.48 552.70,177.41 552.94,177.38 553.06,177.30 553.30,178.20 553.42,180.92 553.66,180.49 553.78,179.20 554.02,179.16 554.14,179.04 554.38,180.49 554.50,184.84 554.74,184.79 554.86,184.63 555.10,184.12 555.22,182.57 555.46,183.97 555.58,188.17 555.82,188.07 555.94,187.77 556.18,188.91 556.30,192.33 556.54,191.92 556.66,190.70 556.90,189.98 557.02,187.84 557.26,185.60 557.38,178.88 557.62,180.02 557.74,183.44 557.98,183.00 558.10,181.70 558.34,181.23 558.46,179.82 558.70,179.18 558.82,177.28 559.06,176.37 559.18,173.65 559.42,173.57 559.54,173.33 559.78,171.75 559.90,167.02 560.14,167.96 560.26,170.77 560.50,168.12 560.62,160.19 560.86,161.84 560.98,166.80 561.22,167.51 561.34,169.64 561.58,171.33 561.70,176.40 561.94,176.03 562.06,174.90 562.30,175.43 562.42,177.03 562.66,177.71 562.78,179.76 563.02,181.55 563.14,186.93 563.38,185.56 563.50,181.45 563.74,182.83 563.86,186.97 564.10,187.21 564.22,187.92 564.46,187.28 564.58,185.36 564.82,184.81 564.94,183.18 565.18,182.25 565.30,179.46 565.54,180.01 565.66,181.65 565.90,180.91 566.02,178.68 566.26,177.45 566.38,173.74 566.62,173.46 566.74,172.59 566.98,172.55 567.10,172.41 567.34,172.09 567.46,171.14 567.70,170.54 567.82,168.76 568.06,168.36 568.18,167.15 568.42,166.17 568.54,163.23 568.78,162.69 568.90,161.05 569.14,161.30 569.26,162.05 569.50,162.92 569.62,165.54 569.86,166.62 569.98,169.87 570.22,169.36 570.34,167.82 570.58,169.58 570.70,174.84 570.94,175.33 571.06,176.79 571.30,176.82 571.42,176.93 571.66,176.70 571.78,176.00 572.02,176.27 572.14,177.10 572.38,177.55 572.50,178.90 572.74,178.84 572.86,178.65 573.10,180.41 573.22,185.69 573.46,184.33 573.58,180.27 573.82,181.83 573.94,186.49 574.18,186.34 574.30,185.87 574.54,186.04 574.66,186.55 574.90,187.36 575.02,189.77 575.26,190.24 575.38,191.64 575.62,191.74 575.74,192.03 575.98,191.23 576.10,188.85 576.34,187.92 576.46,185.12 576.70,184.59 576.82,182.99 577.06,183.44 577.18,184.79 577.42,184.11 577.54,182.08 577.78,181.61 577.90,180.22 578.14,178.93 578.26,175.09 578.50,176.27 578.62,179.83 578.86,177.32 578.98,169.82 579.22,170.52 579.34,172.61 579.58,172.50 579.70,172.20 579.94,169.98 580.06,163.34 580.30,162.99 580.42,161.93 580.66,163.64 580.78,168.77 581.02,168.73 581.14,168.58 581.38,169.63 581.50,172.78 581.74,172.69 581.86,172.41 582.10,173.01 582.22,174.81 582.46,176.28 582.58,180.69 582.82,180.31 582.94,179.19 583.18,180.61 583.30,184.88 583.54,185.35 583.66,186.74 583.90,186.82 584.02,187.07 584.26,186.11 584.38,183.21 584.62,181.97 584.74,178.24 584.98,179.02 585.10,181.35 585.34,179.53 585.46,174.09 585.70,173.77 585.82,172.82 586.06,172.46 586.18,171.38 586.42,172.56 586.54,176.11 586.78,174.36 586.90,169.10 587.14,167.81 587.26,163.93 587.50,164.63 587.62,166.73 587.86,166.51 587.98,165.83 588.22,165.30 588.34,163.70 588.58,163.09 588.70,161.26 588.94,162.87 589.06,167.71 589.30,167.00 589.42,164.87 589.66,166.89 589.78,172.95 590.02,171.67 590.14,167.82 590.38,168.75 590.50,171.55 590.74,171.22 590.86,170.23 591.10,171.69 591.22,176.07 591.46,176.22 591.58,176.69 591.82,175.21 591.94,170.78 592.18,173.09 592.30,180.04 592.54,180.32 592.66,181.13 592.90,181.21 593.02,181.44 593.26,182.27 593.38,184.76 593.62,183.70 593.74,180.50 593.98,180.51 594.10,180.54 594.34,182.45 594.46,188.17 594.70,189.17 594.82,192.19 595.06,190.69 595.18,186.18 595.42,186.23 595.54,186.38 595.78,186.04 595.90,185.01 596.14,184.26 596.26,182.04 596.50,182.81 596.62,185.11 596.86,184.13 596.98,181.21 597.22,181.46 597.34,182.21 597.58,181.82 597.70,180.64 597.94,178.71 598.06,172.94 598.30,173.60 598.42,175.60 598.66,173.33 598.78,166.49 599.02,167.59 599.14,170.87 599.38,170.36 599.50,168.81 599.74,167.13 599.86,162.12 600.10,162.97 600.22,165.54 600.46,166.77 600.58,170.47 600.82,171.97 600.94,176.48 601.18,176.05 601.30,174.76 601.54,174.70 601.66,174.53 601.90,176.32 602.02,181.66 602.26,182.43 602.38,184.72 602.62,184.16 602.74,182.49 602.98,183.64 603.10,187.08 603.34,187.33 603.46,188.10 603.70,187.09 603.82,184.09 604.06,183.79 604.18,182.89 604.42,181.68 604.54,178.04 604.78,177.62 604.90,176.36 605.14,175.18 605.26,171.64 605.50,171.53 605.62,171.20 605.86,172.26 605.98,175.45 606.22,173.80 606.34,168.85 606.58,167.82 606.70,164.73 606.94,164.52 607.06,163.90 607.30,164.35 607.42,165.67 607.66,164.65 607.78,161.59 608.02,162.47 608.14,165.11 608.38,164.92 608.50,164.35 608.74,165.89 608.86,170.50 609.10,171.47 609.22,174.36 609.46,172.65 609.58,167.51 609.82,168.96 609.94,173.29 610.18,173.35 610.30,173.52 610.54,174.56 610.66,177.66 610.90,177.95 611.02,178.83 611.26,179.06 611.38,179.75 611.62,179.58 611.74,179.07 611.98,178.94 612.10,178.56 612.34,180.60 612.46,186.74 612.70,185.12 612.82,180.29 613.06,181.86 613.18,186.59 613.42,186.86 613.54,187.65 613.78,186.87 613.90,184.54 614.14,185.36 614.26,187.82 614.50,189.10 614.62,192.92 614.86,190.90 614.98,184.83 615.22,186.01 615.34,189.55 615.58,188.29 615.70,184.51 615.94,183.98 616.06,182.42 616.30,181.09 616.42,177.12 616.66,177.76 616.78,179.69 617.02,178.29 617.14,174.12 617.38,174.83 617.50,176.96 617.74,175.36 617.86,170.56 618.10,171.35 618.22,173.75 618.46,173.13 618.58,171.27 618.82,169.30 618.94,163.37 619.18,162.72 619.30,160.75 619.54,162.74 619.66,168.70 619.90,167.74 620.02,164.88 620.26,166.49 620.38,171.32 620.62,172.68 620.74,176.74 620.98,176.36 621.10,175.23 621.34,177.06 621.46,182.58 621.70,181.71 621.82,179.12 622.06,179.68 622.18,181.37 622.42,183.12 622.54,188.37 622.78,188.04 622.90,187.04 623.14,185.96 623.26,182.73 623.50,182.27 623.62,180.89 623.86,180.96 623.98,181.17 624.22,179.62 624.34,174.96 624.58,176.06 624.70,179.38 624.94,177.94 625.06,173.63 625.30,173.20 625.42,171.92 625.66,171.43 625.78,169.95 626.02,168.90 626.14,165.74 626.38,165.91 626.50,166.40 626.74,166.26 626.86,165.84 627.10,164.56 627.22,160.71 627.46,160.97 627.58,161.75" stroke="#0000ff" stroke-width="1.1" fill="none" stroke-linejoin="round"/>
<polyline points="360.10,200.76 360.27,200.62 360.43,200.48 360.60,200.34 360.77,200.31 360.93,200.41 361.10,200.52 361.27,200.63 361.43,200.50 361.60,200.31 361.77,200.13 361.94,199.86 362.10,199.31 362.27,198.76 362.44,198.22 362.60,197.65 362.77,197.07 362.94,197.15 363.10,197.47 363.27,197.80 363.44,198.13 363.60,198.47 363.77,198.82 363.94,199.16 364.10,199.49 364.27,199.83 364.44,200.17 364.61,200.52 364.77,200.86 364.94,201.20 365.11,201.53 365.27,201.85 365.44,202.18 365.61,202.44 365.77,202.67 365.94,202.90 366.11,203.13 366.27,203.65 366.44,204.16 366.61,204.68 366.77,204.98 366.94,205.02 367.11,205.06 367.27,205.10 367.44,205.37 367.61,205.09 367.78,204.81 367.94,204.43 368.11,203.78 368.28,203.12 368.44,202.47 368.61,202.00 368.78,201.62 368.94,201.37 369.11,201.49 369.28,201.50 369.44,201.51 369.61,201.51 369.78,201.38 369.94,201.08 370.11,200.78 370.28,200.48 370.44,200.68 370.61,200.97 370.78,201.26 370.95,201.49 371.11,201.60 371.28,201.72 371.45,201.83 371.61,201.81 371.78,201.72 371.95,201.64 372.11,201.56 372.28,201.50 372.45,201.43 372.61,201.37 372.78,201.18 372.95,200.86 373.11,200.53 373.28,200.21 373.45,200.38 373.62,200.61 373.78,200.85 373.95,200.99 374.12,200.88 374.28,200.78 374.45,200.67 374.62,200.81 374.78,201.04 374.95,201.27 375.12,201.45 375.28,201.25 375.45,201.05 375.62,200.86 375.78,200.72 375.95,200.66 376.12,200.59 376.28,200.53 376.45,200.37 376.62,200.20 376.79,200.03 376.95,200.00 377.12,200.30 377.29,200.59 377.45,200.88 377.62,200.82 377.79,200.63 377.95,200.44 378.12,200.28 378.29,200.29 378.45,200.30 378.62,200.32 378.79,200.40 378.95,200.54 379.12,200.68 379.29,200.82 379.46,200.69 379.62,200.54 379.79,200.39 379.96,200.29 380.12,200.29 380.29,200.30 380.46,200.17 380.62,199.95 380.79,199.79 380.96,199.63 381.12,199.38 381.29,198.59 381.46,198.05 381.62,197.97 381.79,198.11 381.96,198.42 382.12,198.72 382.29,199.01 382.46,199.41 382.63,199.81 382.79,200.21 382.96,200.61 383.13,201.00 383.29,201.39 383.46,201.78 383.63,201.82 383.79,201.74 383.96,201.66 384.13,201.66 384.29,202.09 384.46,202.52 384.63,202.95 384.79,203.24 384.96,203.43 385.13,203.61 385.29,203.79 385.46,204.02 385.63,204.24 385.80,204.47 385.96,204.81 386.13,205.33 386.30,205.86 386.46,206.08 386.63,205.49 386.80,204.80 386.96,204.12 387.13,203.49 387.30,203.11 387.46,202.73 387.63,202.35 387.80,201.87 387.96,201.52 388.13,201.47 388.30,201.42 388.47,201.39 388.63,201.36 388.80,201.33 388.97,201.30 389.13,201.26 389.30,201.21 389.47,201.17 389.63,201.03 389.80,200.85 389.97,200.68 390.13,200.56 390.30,200.66 390.47,200.75 390.63,200.84 390.80,200.88 390.97,200.89 391.13,200.89 391.30,200.90 391.47,200.88 391.64,200.87 391.80,200.85 391.97,200.80 392.14,200.69 392.30,200.58 392.47,200.26 392.64,199.84 392.80,199.46 392.97,199.08 393.14,198.66 393.30,198.08 393.47,197.80 393.64,198.06 393.80,198.31 393.97,198.57 394.14,198.83 394.31,199.11 394.47,199.50 394.64,199.89 394.81,200.29 394.97,200.63 395.14,200.90 395.31,201.17 395.47,201.44 395.64,201.81 395.81,202.20 395.97,202.59 396.14,202.89 396.31,202.88 396.47,202.88 396.64,202.87 396.81,203.14 396.97,203.55 397.14,203.97 397.31,204.38 397.48,204.82 397.64,205.26 397.81,205.70 397.98,205.73 398.14,205.28 398.31,204.82 398.48,204.36 398.64,203.60 398.81,202.80 398.98,201.99 399.14,201.32 399.31,201.04 399.48,200.99 399.64,201.22 399.81,201.32 399.98,201.36 400.15,201.40 400.31,201.43 400.48,201.37 400.65,201.31 400.81,201.25 400.98,201.21 401.15,201.20 401.31,201.19 401.48,201.17 401.65,201.04 401.81,200.89 401.98,200.74 402.15,200.67 402.31,200.84 402.48,201.01 402.65,201.18 402.81,201.04 402.98,200.76 403.15,200.48 403.32,200.26 403.48,200.63 403.65,200.99 403.82,201.36 403.98,201.44 404.15,201.23 404.32,201.02 404.48,200.80 404.65,200.97 404.82,201.17 404.98,201.37 405.15,201.40 405.32,201.03 405.48,200.66 405.65,200.27 405.82,200.33 405.98,200.58 406.15,200.83 406.32,201.04 406.49,200.98 406.65,200.92 406.82,200.86 406.99,200.75 407.15,200.60 407.32,200.45 407.49,200.30 407.65,200.23 407.82,200.16 407.99,200.09 408.15,200.13 408.32,200.41 408.49,200.68 408.65,200.96 408.82,200.94 408.99,200.82 409.16,200.70 409.32,200.60 409.49,200.71 409.66,200.82 409.82,200.93 409.99,200.86 410.16,200.64 410.32,200.42 410.49,200.20 410.66,200.19 410.82,200.19 410.99,199.98 411.16,199.58 411.32,199.19 411.49,198.79 411.66,198.40 411.82,198.01 411.99,198.03 412.16,198.38 412.33,198.71 412.49,198.98 412.66,199.24 412.83,199.48 412.99,199.77 413.16,200.10 413.33,200.42 413.49,200.75 413.66,200.88 413.83,201.00 413.99,201.12 414.16,201.25 414.33,201.40 414.49,201.56 414.66,201.71 414.83,202.30 415.00,203.02 415.16,203.74 415.33,204.34 415.50,204.39 415.66,204.44 415.83,204.49 416.00,204.70 416.16,205.02 416.33,205.34 416.50,205.66 416.66,205.83 416.83,205.99 417.00,205.69 417.16,205.17 417.33,204.83 417.50,204.49 417.66,204.15 417.83,203.59 418.00,202.97 418.17,202.34 418.33,201.76 418.50,201.65 418.67,201.73 418.83,201.81 419.00,201.69 419.17,201.44 419.33,201.19 419.50,200.94 419.67,200.98 419.83,201.02 420.00,201.07 420.17,201.10 420.33,201.10 420.50,201.10 420.67,201.10 420.83,201.02 421.00,200.92 421.17,200.82 421.34,200.75 421.50,200.80 421.67,200.85 421.84,200.89 422.00,201.00 422.17,201.13 422.34,201.26 422.50,201.39 422.67,201.09 422.84,200.78 423.00,200.16 423.17,199.48 423.34,198.98 423.50,198.48 423.67,197.98 423.84,197.49 424.01,197.60 424.17,197.96 424.34,198.27 424.51,198.43 424.67,198.61 424.84,198.79 425.01,199.04 425.17,199.33 425.34,199.63 425.51,199.93 425.67,200.55 425.84,201.16 426.01,201.78 426.17,202.25 426.34,202.53 426.51,202.81 426.67,203.10 426.84,203.16 427.01,203.19 427.18,203.22 427.34,203.32 427.51,203.66 427.68,204.00 427.84,204.34 428.01,204.85 428.18,205.44 428.34,206.04 428.51,206.07 428.68,205.62 428.84,205.16 429.01,204.70 429.18,204.19 429.34,203.61 429.51,203.03 429.68,202.44 429.85,201.91 430.01,201.71 430.18,201.68 430.35,201.70 430.51,201.82 430.68,201.95 430.85,202.08 431.01,201.97 431.18,201.75 431.35,201.54 431.51,201.35 431.68,201.50 431.85,201.66 432.01,201.81 432.18,201.88 432.35,201.86 432.51,201.84 432.68,201.82 432.85,201.57 433.02,201.29 433.18,201.01 433.35,200.86 433.52,201.05 433.68,201.25 433.85,201.44 434.02,201.43 434.18,201.34 434.35,201.25 434.52,201.16 434.68,201.06 434.85,200.96 435.02,200.86 435.18,200.79 435.35,200.76 435.52,200.72 435.68,200.69 435.85,200.81 436.02,200.93 436.19,201.05 436.35,201.11 436.52,201.04 436.69,200.97 436.85,200.89 437.02,200.93 437.19,201.02 437.35,201.10 437.52,201.13 437.69,200.78 437.85,200.43 438.02,200.08 438.19,199.97 438.35,200.08 438.52,200.20 438.69,200.31 438.86,200.50 439.02,200.70 439.19,200.90 439.36,200.97 439.52,200.81 439.69,200.64 439.86,200.48 440.02,200.35 440.19,200.23 440.36,200.12 440.52,200.02 440.69,200.02 440.86,200.03 441.02,200.03 441.19,199.92 441.36,199.73 441.52,199.24 441.69,198.65 441.86,198.27 442.03,197.91 442.19,197.55 442.36,197.25 442.53,197.62 442.69,198.16 442.86,198.71 443.03,199.02 443.19,199.25 443.36,199.47 443.53,199.72 443.69,200.15 443.86,200.58 444.03,201.01 444.19,201.24 444.36,201.32 444.53,201.40 444.70,201.48 444.86,201.77 445.03,202.05 445.20,202.34 445.36,202.51 445.53,202.46 445.70,202.41 445.86,202.36 446.03,202.82 446.20,203.43 446.36,204.04 446.53,204.64 446.70,205.19 446.86,205.75 447.03,206.30 447.20,206.59 447.36,206.68 447.53,206.15 447.70,205.46 447.87,204.85 448.03,204.24 448.20,203.62 448.37,203.12 448.53,202.78 448.70,202.44 448.87,202.10 449.03,201.97 449.20,201.89 449.37,201.81 449.53,201.73 449.70,201.63 449.87,201.54 450.03,201.44 450.20,201.33 450.37,201.21 450.54,201.09 450.70,200.97 450.87,201.00 451.04,201.04 451.20,201.07 451.37,201.12 451.54,201.18 451.70,201.24 451.87,201.30 452.04,201.11 452.20,200.87 452.37,200.62 452.54,200.46 452.70,200.60 452.87,200.74 453.04,200.88 453.20,200.90 453.37,200.87 453.54,200.42 453.71,199.88 453.87,199.47 454.04,199.05 454.21,198.63 454.37,198.13 454.54,198.49 454.71,198.69 454.87,198.90 455.04,199.02 455.21,199.13 455.37,199.25 455.54,199.48 455.71,200.07 455.87,200.66 456.04,201.25 456.21,201.52 456.37,201.62 456.54,201.73 456.71,201.83 456.88,202.03 457.04,202.23 457.21,202.43 457.38,202.74 457.54,203.18 457.71,203.62 457.88,204.06 458.04,204.31 458.21,204.53 458.38,204.75 458.54,205.04 458.71,205.51 458.88,205.98 459.04,205.78 459.21,205.16 459.38,204.37 459.55,203.59 459.71,202.83 459.88,202.38 460.05,201.93 460.21,201.48 460.38,201.07 460.55,201.11 460.71,201.21 460.88,201.31 461.05,201.54 461.21,201.78 461.38,202.02 461.55,202.16 461.71,202.06 461.88,201.96 462.05,201.86 462.21,201.65 462.38,201.38 462.55,201.11 462.72,200.86 462.88,200.75 463.05,200.65 463.22,200.54 463.38,200.58 463.55,200.74 463.72,200.91 463.88,201.08 464.05,200.98 464.22,200.85 464.38,200.72 464.55,200.70 464.72,200.92 464.88,201.14 465.05,201.37 465.22,201.39 465.39,201.33 465.55,201.26 465.72,201.20 465.89,201.17 466.05,201.13 466.22,201.10 466.39,201.05 466.55,200.97 466.72,200.89 466.89,200.82 467.05,201.02 467.22,201.24 467.39,201.46 467.55,201.51 467.72,201.17 467.89,200.83 468.05,200.49 468.22,200.35 468.39,200.28 468.56,200.21 468.72,200.18 468.89,200.47 469.06,200.76 469.22,201.05 469.39,201.19 469.56,201.19 469.72,201.19 469.89,201.20 470.06,200.97 470.22,200.73 470.39,200.49 470.56,200.37 470.72,200.47 470.89,200.58 471.06,200.68 471.22,200.85 471.39,201.05 471.56,201.24 471.73,201.34 471.89,200.91 472.06,200.14 472.23,199.34 472.39,198.82 472.56,198.52 472.73,198.21 472.89,197.90 473.06,198.24 473.23,198.59 473.39,198.95 473.56,199.16 473.73,199.09 473.89,199.02 474.06,198.95 474.23,199.32 474.40,199.83 474.56,200.34 474.73,200.82 474.90,201.19 475.06,201.56 475.23,201.93 475.40,202.17 475.56,202.32 475.73,202.47 475.90,202.62 476.06,203.01 476.23,203.41 476.40,203.82 476.56,204.15 476.73,204.37 476.90,204.59 477.06,204.81 477.23,204.95 477.40,205.06 477.57,205.17 477.73,205.33 477.90,205.70 478.07,205.35 478.23,205.00 478.40,204.56 478.57,204.07 478.73,203.58 478.90,203.09 479.07,202.35 479.23,201.60 479.40,200.86 479.57,200.71 479.73,200.79 479.90,200.86 480.07,200.93 480.24,200.93 480.40,200.91 480.57,200.89 480.74,200.87 480.90,200.88 481.07,200.88 481.24,200.89 481.40,200.88 481.57,200.85 481.74,200.83 481.90,200.81 482.07,200.65 482.24,200.50 482.40,200.35 482.57,200.33 482.74,200.49 482.90,200.65 483.07,200.80 483.24,200.61 483.41,200.34 483.57,200.08 483.74,199.95 483.91,200.26 484.07,200.12 484.24,199.99 484.41,199.57 484.57,198.98 484.74,198.40 484.91,197.67 485.07,198.10 485.24,198.54 485.41,198.98 485.57,199.31 485.74,199.49 485.91,199.68 486.07,199.86 486.24,200.06 486.41,200.27 486.58,200.47 486.74,200.68 486.91,200.87 487.08,201.07 487.24,201.27 487.41,201.72 487.58,202.30 487.74,202.89 487.91,203.45 488.08,203.68 488.24,203.91 488.41,204.14 488.58,204.43 488.74,204.79 488.91,205.16 489.08,205.52 489.25,205.88 489.41,206.18 489.58,205.73 489.75,205.28 489.91,204.84 490.08,204.39 490.25,203.95 490.41,203.36 490.58,202.70 490.75,202.04 490.91,201.45 491.08,201.67 491.25,201.89 491.41,202.10 491.58,202.09 491.75,201.85 491.91,201.60 492.08,201.36 492.25,201.33 492.42,201.33 492.58,201.33 492.75,201.35 492.92,201.43 493.08,201.50 493.25,201.58 493.42,201.62 493.58,201.66 493.75,201.69 493.92,201.72 494.08,201.76 494.25,201.80 494.42,201.83 494.58,201.63 494.75,201.21 494.92,200.78 495.09,200.36 495.25,200.68 495.42,201.08 495.59,201.48 495.75,201.63 495.92,201.25 496.09,200.87 496.25,200.49 496.42,200.46 496.59,200.57 496.75,200.68 496.92,200.79 497.09,200.89 497.25,200.99 497.42,201.08 497.59,201.17 497.75,201.25 497.92,201.32 498.09,201.40 498.26,201.12 498.42,200.82 498.59,200.51 498.76,200.27 498.92,200.16 499.09,200.05 499.26,199.93 499.42,200.14 499.59,200.45 499.76,200.76 499.92,201.02 500.09,200.91 500.26,200.81 500.42,200.70 500.59,200.55 500.76,200.35 500.93,200.15 501.09,199.96 501.26,200.01 501.43,200.08 501.59,200.14 501.76,200.10 501.93,199.86 502.09,199.63 502.26,199.39 502.43,199.50 502.59,199.42 502.76,199.34 502.93,199.18 503.09,198.62 503.26,198.07 503.43,197.64 503.59,198.00 503.76,198.52 503.93,199.04 504.10,199.56 504.26,199.43 504.43,199.27 504.60,199.12 504.76,199.26 504.93,199.88 505.10,200.51 505.26,201.14 505.43,201.64 505.60,202.10 505.76,202.55 505.93,202.93 506.10,202.93 506.26,202.94 506.43,202.95 506.60,203.11 506.76,203.38 506.93,203.65 507.10,203.92 507.27,203.93 507.43,203.94 507.60,203.95 507.77,204.18 507.93,204.74 508.10,205.29 508.27,205.85 508.43,205.99 508.60,205.45 508.77,204.90 508.93,204.35 509.10,203.78 509.27,203.20 509.43,202.62 509.60,202.01 509.77,201.38 509.94,200.86 510.10,200.70 510.27,200.88 510.44,201.06 510.60,201.24 510.77,201.27 510.94,201.10 511.10,200.93 511.27,200.76 511.44,200.76 511.60,200.80 511.77,200.83 511.94,200.88 512.10,200.95 512.27,201.02 512.44,201.10 512.60,201.08 512.77,201.00 512.94,200.92 513.11,200.84 513.27,200.82 513.44,200.80 513.61,200.77 513.77,200.80 513.94,200.89 514.11,200.98 514.27,201.07 514.44,200.71 514.61,199.92 514.77,199.13 514.94,198.49 515.11,198.30 515.27,198.11 515.44,198.04 515.61,198.24 515.78,198.22 515.94,198.20 516.11,198.21 516.28,198.56 516.44,198.91 516.61,199.26 516.78,199.66 516.94,200.11 517.11,200.57 517.28,201.02 517.44,201.44 517.61,201.84 517.78,202.25 517.94,202.62 518.11,202.87 518.28,203.13 518.44,203.38 518.61,203.62 518.78,203.86 518.95,204.09 519.11,204.33 519.28,204.61 519.45,204.90 519.61,205.19 519.78,205.52 519.95,205.67 520.11,205.22 520.28,204.76 520.45,204.18 520.61,203.58 520.78,202.97 520.95,202.45 521.11,202.14 521.28,201.82 521.45,201.65 521.61,201.63 521.78,201.52 521.95,201.41 522.12,201.33 522.28,201.54 522.45,201.76 522.62,201.98 522.78,201.94 522.95,201.63 523.12,201.32 523.28,201.01 523.45,201.04 523.62,201.11 523.78,201.17 523.95,201.24 524.12,201.30 524.28,201.36 524.45,201.42 524.62,201.29 524.79,201.07 524.95,200.86 525.12,200.68 525.29,200.73 525.45,200.77 525.62,200.82 525.79,201.07 525.95,201.50 526.12,201.94 526.29,202.37 526.45,202.06 526.62,201.69 526.79,201.31 526.95,201.12 527.12,201.30 527.29,201.47 527.45,201.65 527.62,201.44 527.79,201.10 527.96,200.75 528.12,200.42 528.29,200.22 528.46,200.01 528.62,199.80 528.79,199.90 528.96,200.26 529.12,200.61 529.29,200.97 529.46,200.90 529.62,200.80 529.79,200.69 529.96,200.63 530.12,200.65 530.29,200.67 530.46,200.68 530.63,200.61 530.79,200.51 530.96,200.41 531.13,200.31 531.29,200.25 531.46,200.18 531.63,200.12 531.79,200.03 531.96,199.93 532.13,199.82 532.29,199.71 532.46,199.96 532.63,200.23 532.79,200.49 532.96,200.39 533.13,199.64 533.29,198.90 533.46,198.15 533.63,197.90 533.80,197.80 533.96,197.97 534.13,198.50 534.30,198.65 534.46,198.80 534.63,198.94 534.80,199.08 534.96,199.25 535.13,199.41 535.30,199.58 535.46,199.91 535.63,200.24 535.80,200.57 535.96,200.96 536.13,201.45 536.30,201.94 536.46,202.42 536.63,202.72 536.80,202.96 536.97,203.21 537.13,203.46 537.30,203.70 537.47,203.95 537.63,204.19 537.80,204.43 537.97,204.65 538.13,204.87 538.30,205.10 538.47,205.22 538.63,205.35 538.80,205.47 538.97,205.46 539.13,205.26 539.30,205.06 539.47,204.85 539.64,204.22 539.80,203.48 539.97,202.75 540.14,202.06 540.30,201.53 540.47,201.20 540.64,201.15 540.80,201.11 540.97,201.09 541.14,201.06 541.30,201.04 541.47,201.02 541.64,201.00 541.80,200.98 541.97,200.90 542.14,200.74 542.30,200.57 542.47,200.41 542.64,200.46 542.81,200.56 542.97,200.66 543.14,200.72 543.31,200.64 543.47,200.56 543.64,200.48 543.81,200.46 543.97,200.47 544.14,200.47 544.31,200.47 544.47,200.28 544.64,200.10 544.81,199.91 544.97,199.78 545.14,199.72 545.31,199.65 545.48,199.59 545.64,198.79 545.81,197.85 545.98,197.48 546.14,197.52 546.31,198.01 546.48,198.49 546.64,198.99 546.81,199.37 546.98,199.67 547.14,199.98 547.31,200.30 547.48,200.69 547.64,201.09 547.81,201.48 547.98,201.89 548.14,202.31 548.31,202.73 548.48,203.15 548.65,203.31 548.81,203.42 548.98,203.54 549.15,203.72 549.31,204.07 549.48,204.41 549.65,204.76 549.81,204.98 549.98,205.13 550.15,205.29 550.31,205.48 550.48,205.65 550.65,205.41 550.81,205.18 550.98,204.64 551.15,203.78 551.32,202.93 551.48,202.07 551.65,201.67 551.82,201.33 551.98,201.23 552.15,201.34 552.32,201.40 552.48,201.45 552.65,201.51 552.82,201.56 552.98,201.60 553.15,201.65 553.32,201.69 553.48,201.69 553.65,201.69 553.82,201.69 553.98,201.71 554.15,201.74 554.32,201.77 554.49,201.80 554.65,201.73 554.82,201.64 554.99,201.56 555.15,201.47 555.32,201.39 555.49,201.31 555.65,201.23 555.82,201.22 555.99,201.23 556.15,201.24 556.32,201.27 556.49,201.42 556.65,201.56 556.82,201.71 556.99,201.69 557.15,201.54 557.32,201.38 557.49,201.22 557.66,201.28 557.82,201.34 557.99,201.41 558.16,201.39 558.32,201.23 558.49,201.07 558.66,200.92 558.82,200.70 558.99,200.46 559.16,200.22 559.32,200.03 559.49,200.16 559.66,200.30 559.82,200.43 559.99,200.54 560.16,200.64 560.33,200.73 560.49,200.83 560.66,200.97 560.83,201.11 560.99,201.25 561.16,201.32 561.33,201.27 561.49,201.22 561.66,201.17 561.83,201.17 561.99,201.18 562.16,201.19 562.33,201.14 562.49,200.81 562.66,200.48 562.83,200.15 562.99,200.10 563.16,200.27 563.33,200.43 563.50,200.38 563.66,199.89 563.83,199.38 564.00,198.88 564.16,198.45 564.33,198.14 564.50,198.22 564.66,198.59 564.83,198.83 565.00,199.02 565.16,199.21 565.33,199.36 565.50,199.46 565.66,199.56 565.83,199.65 566.00,200.00 566.17,200.53 566.33,201.06 566.50,201.59 566.67,201.81 566.83,202.03 567.00,202.25 567.17,202.51 567.33,202.83 567.50,203.15 567.67,203.47 567.83,203.57 568.00,203.62 568.17,203.67 568.33,203.81 568.50,204.32 568.67,204.82 568.83,205.33 569.00,205.69 569.17,205.97 569.34,206.25 569.50,206.06 569.67,205.61 569.84,205.15 570.00,204.70 570.17,204.23 570.34,203.75 570.50,203.26 570.67,202.78 570.84,202.09 571.00,201.65 571.17,201.38 571.34,201.11 571.50,200.81 571.67,200.52 571.84,200.22 572.00,200.38 572.17,200.80 572.34,201.22 572.51,201.62 572.67,201.35 572.84,201.07 573.01,200.79 573.17,200.66 573.34,200.72 573.51,200.78 573.67,200.84 573.84,200.97 574.01,201.11 574.17,201.26 574.34,201.33 574.51,201.20 574.67,201.06 574.84,200.93 575.01,200.86 575.18,200.82 575.34,200.79 575.51,200.45 575.68,200.00 575.84,199.55 576.01,199.11 576.18,198.48 576.34,197.64 576.51,196.78 576.68,196.78 576.84,197.48 577.01,198.30 577.18,199.14 577.34,199.78 577.51,199.84 577.68,199.90 577.84,199.96 578.01,200.22 578.18,200.58 578.35,200.94 578.51,201.31 578.68,201.78 578.85,202.25 579.01,202.72 579.18,203.09 579.35,203.35 579.51,203.61 579.68,203.87 579.85,204.13 580.01,204.39 580.18,204.65 580.35,204.96 580.51,205.41 580.68,205.85 580.85,206.30 581.02,206.02 581.18,205.43 581.35,204.84 581.52,204.24 581.68,203.64 581.85,203.05 582.02,202.45 582.18,202.05 582.35,201.83 582.52,202.00 582.68,202.33 582.85,201.95 583.02,201.50 583.18,201.04 583.35,200.68 583.52,200.57 583.68,200.45 583.85,200.34 584.02,200.41 584.19,200.57 584.35,200.72 584.52,200.85 584.69,200.83 584.85,200.82 585.02,200.80 585.19,200.95 585.35,201.24 585.52,201.54 585.69,201.83 585.85,201.69 586.02,201.51 586.19,201.34 586.35,201.24 586.52,201.32 586.69,201.39 586.85,201.47 587.02,201.46 587.19,201.42 587.36,201.38 587.52,201.31 587.69,201.10 587.86,200.89 588.02,200.68 588.19,200.70 588.36,200.91 588.52,201.11 588.69,201.31 588.86,201.21 589.02,201.10 589.19,200.99 589.36,200.98 589.52,201.18 589.69,201.38 589.86,201.58 590.03,201.44 590.19,201.19 590.36,200.94 590.53,200.72 590.69,200.66 590.86,200.60 591.03,200.54 591.19,200.55 591.36,200.63 591.53,200.70 591.69,200.77 591.86,200.75 592.03,200.73 592.19,200.70 592.36,200.55 592.53,200.19 592.69,199.83 592.86,199.47 593.03,199.67 593.20,200.04 593.36,200.40 593.53,200.70 593.70,200.65 593.86,200.60 594.03,200.22 594.20,199.73 594.36,199.24 594.53,198.75 594.70,198.27 594.86,197.56 595.03,197.46 595.20,197.53 595.36,197.66 595.53,197.87 595.70,198.07 595.87,198.26 596.03,198.71 596.20,199.24 596.37,199.77 596.53,200.28 596.70,200.71 596.87,201.15 597.03,201.58 597.20,201.92 597.37,202.18 597.53,202.45 597.70,202.71 597.87,202.83 598.03,202.94 598.20,203.05 598.37,203.34 598.53,203.90 598.70,204.45 598.87,205.00 599.04,205.11 599.20,205.11 599.37,205.11 599.54,205.18 599.70,205.49 599.87,205.79 600.04,205.40 600.20,204.94 600.37,204.55 600.54,204.16 600.70,203.77 600.87,203.13 601.04,202.50 601.20,201.87 601.37,201.26 601.54,201.12 601.71,201.07 601.87,201.03 602.04,200.90 602.21,200.77 602.37,200.63 602.54,200.60 602.71,200.90 602.87,201.19 603.04,201.49 603.21,201.39 603.37,201.08 603.54,200.76 603.71,200.46 603.87,200.62 604.04,200.79 604.21,200.95 604.37,201.05 604.54,201.07 604.71,201.08 604.88,201.10 605.04,200.98 605.21,200.83 605.38,200.69 605.54,200.58 605.71,200.59 605.88,200.59 606.04,200.13 606.21,199.63 606.38,199.15 606.54,198.66 606.71,198.18 606.88,197.67 607.04,198.24 607.21,198.62 607.38,198.94 607.54,199.17 607.71,199.41 607.88,199.66 608.05,199.71 608.21,199.74 608.38,199.76 608.55,199.85 608.71,200.12 608.88,200.38 609.05,200.65 609.21,201.07 609.38,201.56 609.55,202.06 609.71,202.53 609.88,202.80 610.05,203.06 610.21,203.32 610.38,203.72 610.55,204.26 610.72,204.81 610.88,205.35 611.05,205.66 611.22,205.93 611.38,206.20 611.55,205.72 611.72,205.15 611.88,204.58 612.05,204.01 612.22,203.60 612.38,203.25 612.55,202.90 612.72,202.53 612.88,201.99 613.05,201.92 613.22,201.90 613.38,201.81 613.55,201.66 613.72,201.51 613.89,201.36 614.05,201.38 614.22,201.43 614.39,201.47 614.55,201.52 614.72,201.60 614.89,201.69 615.05,201.77 615.22,201.65 615.39,201.45 615.55,201.26 615.72,201.09 615.89,201.17 616.05,201.24 616.22,201.31 616.39,201.25 616.56,201.07 616.72,200.90 616.89,200.72 617.06,200.82 617.22,200.94 617.39,201.06 617.56,201.15 617.72,201.17 617.89,201.20 618.06,201.22 618.22,201.18 618.39,201.11 618.56,201.05 618.72,200.99 618.89,201.02 619.06,201.03 619.22,201.05 619.39,201.07 619.56,201.11 619.73,201.15 619.89,201.18 620.06,201.13 620.23,201.07 620.39,201.01 620.56,200.91 620.73,200.74 620.89,200.56 621.06,200.39 621.23,200.34 621.39,200.33 621.56,200.32 621.73,200.29 621.89,200.18 622.06,200.07 622.23,199.97 622.39,200.12 622.56,200.47 622.73,200.82 622.90,201.18 623.06,201.00 623.23,200.81 623.40,200.62 623.56,200.49 623.73,200.47 623.90,200.44 624.06,200.42 624.23,200.34 624.40,200.24 624.56,199.74 624.73,199.27 624.90,198.92 625.06,198.57 625.23,198.22 625.40,197.83 625.57,198.14 625.73,198.45 625.90,198.76 626.07,198.91 626.23,199.03 626.40,199.15 626.57,199.36 626.73,199.72 626.90,200.08" stroke="#ff0000" stroke-width="1.35" fill="none" stroke-linejoin="round"/>
</g>
<path d="M360.10 210.6v-2.7M360.10 5.0v2.7M413.46 210.6v-2.7M413.46 5.0v2.7M466.82 210.6v-2.7M466.82 5.0v2.7M520.18 210.6v-2.7M520.18 5.0v2.7M573.54 210.6v-2.7M573.54 5.0v2.7M626.90 210.6v-2.7M626.90 5.0v2.7M360.1 164.91h2.7M626.9 164.91h-2.7M360.1 119.22h2.7M626.9 119.22h-2.7M360.1 73.53h2.7M626.9 73.53h-2.7M360.1 27.84h2.7M626.9 27.84h-2.7" stroke="#262626" stroke-width="1" fill="none"/>
<rect x="360.1" y="5.0" width="266.80" height="205.60" stroke="#262626" stroke-width="1.3" fill="none"/>
<g font-family="Liberation Serif, serif" font-size="12" fill="#262626">
<text x="360.10" y="225.3" text-anchor="middle">0</text>
<text x="413.46" y="225.3" text-anchor="middle">0.05</text>
<text x="466.82" y="225.3" text-anchor="middle">0.10</text>
<text x="520.18" y="225.3" text-anchor="middle">0.15</text>
<text x="573.54" y="225.3" text-anchor="middle">0.20</text>
<text x="626.90" y="225.3" text-anchor="middle">0.25</text>
<text x="356.2" y="215.00" text-anchor="end">0</text>
<text x="356.2" y="169.31" text-anchor="end">500</text>
<text x="356.2" y="123.62" text-anchor="end">1000</text>
<text x="356.2" y="77.93" text-anchor="end">1500</text>
<text x="356.2" y="32.24" text-anchor="end">2000</text>
</g>
<text font-family="Liberation Serif, serif" font-size="14.4" fill="#262626" x="493.30" y="241.4" text-anchor="middle">Time [s]</text>
<text font-family="Liberation Serif, serif" font-size="15" fill="#262626" transform="translate(327.8 107.85) rotate(-90)" text-anchor="middle">Voltage [V]</text>
<text font-family="Liberation Serif, serif" font-size="19.4" fill="#111" stroke="#111" stroke-width="0.12" x="597.6" y="34.0">(b)</text>
<rect x="366.1" y="10.8" width="109.5" height="59.5" fill="#fff" stroke="#262626" stroke-width="1.1"/>
<path d="M367.7 21.20h13.1" stroke="#000" stroke-width="1"/>
<text font-family="Liberation Serif, serif" fill="#262626" x="382.3" y="22.80" font-size="12.4">V<tspan font-size="9.6" dy="6">air</tspan><tspan dy="-6">: 14.8±0.3 m/s</tspan></text>
<path d="M367.7 40.35h13.1" stroke="#0000ff" stroke-width="1"/>
<text font-family="Liberation Serif, serif" fill="#262626" x="382.3" y="41.95" font-size="12.4">V<tspan font-size="9.6" dy="6">air</tspan><tspan dy="-6">: 10.1±0.2 m/s</tspan></text>
<path d="M367.7 59.50h13.1" stroke="#ff0000" stroke-width="1"/>
<text font-family="Liberation Serif, serif" fill="#262626" x="382.3" y="61.10" font-size="12.4">V<tspan font-size="9.6" dy="6">air</tspan><tspan dy="-6">: 5.8±0.1 m/s</tspan></text>
</svg>
</body></html>
